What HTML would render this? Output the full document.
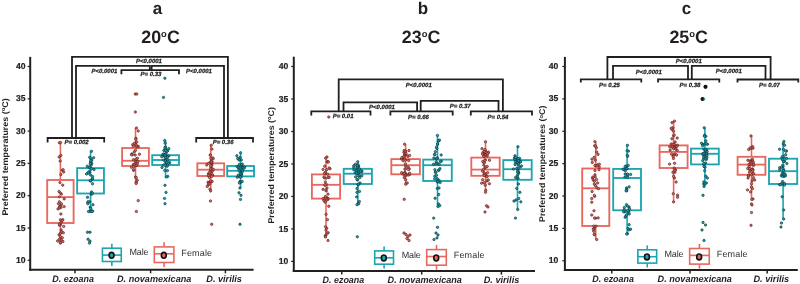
<!DOCTYPE html>
<html><head><meta charset="utf-8"><style>
html,body{margin:0;padding:0;background:#fff;width:800px;height:284px;overflow:hidden}
svg text{font-family:"Liberation Sans",sans-serif;text-rendering:geometricPrecision}
svg{will-change:transform}
</style></head><body>
<svg width="800" height="284" viewBox="0 0 800 284" style="display:block">
<rect width="800" height="284" fill="#ffffff"/>
<text x="157.50" y="13.50" font-size="17.0" font-weight="bold" font-style="normal" text-anchor="middle" fill="#231F20" >a</text>
<text x="141.20" y="43.0" font-size="17.8" font-weight="bold" text-anchor="start" fill="#231F20" textLength="38.6" lengthAdjust="spacingAndGlyphs">20<tspan font-size="9.4" dy="-5.9">o</tspan><tspan dy="5.9">C</tspan></text>
<line x1="30.20" y1="56.90" x2="30.20" y2="270.70" stroke="#231F20" stroke-width="2.0" stroke-linecap="butt"/>
<line x1="29.20" y1="269.70" x2="253.60" y2="269.70" stroke="#231F20" stroke-width="2.0" stroke-linecap="butt"/>
<line x1="27.60" y1="260.30" x2="30.20" y2="260.30" stroke="#231F20" stroke-width="1.2" stroke-linecap="butt"/>
<text x="25.50" y="262.90" font-size="8.6" font-weight="bold" font-style="normal" text-anchor="end" fill="#231F20" stroke="#231F20" stroke-width="0.2">10</text>
<line x1="27.60" y1="228.00" x2="30.20" y2="228.00" stroke="#231F20" stroke-width="1.2" stroke-linecap="butt"/>
<text x="25.50" y="230.60" font-size="8.6" font-weight="bold" font-style="normal" text-anchor="end" fill="#231F20" stroke="#231F20" stroke-width="0.2">15</text>
<line x1="27.60" y1="195.70" x2="30.20" y2="195.70" stroke="#231F20" stroke-width="1.2" stroke-linecap="butt"/>
<text x="25.50" y="198.30" font-size="8.6" font-weight="bold" font-style="normal" text-anchor="end" fill="#231F20" stroke="#231F20" stroke-width="0.2">20</text>
<line x1="27.60" y1="163.40" x2="30.20" y2="163.40" stroke="#231F20" stroke-width="1.2" stroke-linecap="butt"/>
<text x="25.50" y="166.00" font-size="8.6" font-weight="bold" font-style="normal" text-anchor="end" fill="#231F20" stroke="#231F20" stroke-width="0.2">25</text>
<line x1="27.60" y1="131.10" x2="30.20" y2="131.10" stroke="#231F20" stroke-width="1.2" stroke-linecap="butt"/>
<text x="25.50" y="133.70" font-size="8.6" font-weight="bold" font-style="normal" text-anchor="end" fill="#231F20" stroke="#231F20" stroke-width="0.2">30</text>
<line x1="27.60" y1="98.80" x2="30.20" y2="98.80" stroke="#231F20" stroke-width="1.2" stroke-linecap="butt"/>
<text x="25.50" y="101.40" font-size="8.6" font-weight="bold" font-style="normal" text-anchor="end" fill="#231F20" stroke="#231F20" stroke-width="0.2">35</text>
<line x1="27.60" y1="66.50" x2="30.20" y2="66.50" stroke="#231F20" stroke-width="1.2" stroke-linecap="butt"/>
<text x="25.50" y="69.10" font-size="8.6" font-weight="bold" font-style="normal" text-anchor="end" fill="#231F20" stroke="#231F20" stroke-width="0.2">40</text>
<line x1="75.00" y1="269.70" x2="75.00" y2="273.30" stroke="#231F20" stroke-width="1.5" stroke-linecap="butt"/>
<line x1="150.60" y1="269.70" x2="150.60" y2="273.30" stroke="#231F20" stroke-width="1.5" stroke-linecap="butt"/>
<line x1="225.40" y1="269.70" x2="225.40" y2="273.30" stroke="#231F20" stroke-width="1.5" stroke-linecap="butt"/>
<text x="73.10" y="281.70" font-size="9.3" font-weight="bold" font-style="italic" text-anchor="middle" fill="#231F20" textLength="41.6" lengthAdjust="spacingAndGlyphs">D. ezoana</text>
<text x="154.20" y="281.70" font-size="9.3" font-weight="bold" font-style="italic" text-anchor="middle" fill="#231F20" textLength="74.3" lengthAdjust="spacingAndGlyphs">D. novamexicana</text>
<text x="224.10" y="281.70" font-size="9.3" font-weight="bold" font-style="italic" text-anchor="middle" fill="#231F20" textLength="35.6" lengthAdjust="spacingAndGlyphs">D. virilis</text>
<text transform="translate(7.60,156.90) rotate(-90)" x="0" y="0" font-size="8.3" font-weight="bold" text-anchor="middle" fill="#231F20" textLength="117.4" lengthAdjust="spacingAndGlyphs">Preferred temperatures (<tspan font-size="5.5" dy="-2.8">o</tspan><tspan dy="2.8">C)</tspan></text>
<text x="423.00" y="13.50" font-size="17.0" font-weight="bold" font-style="normal" text-anchor="middle" fill="#231F20" >b</text>
<text x="401.80" y="43.0" font-size="17.8" font-weight="bold" text-anchor="start" fill="#231F20" textLength="38.6" lengthAdjust="spacingAndGlyphs">23<tspan font-size="9.4" dy="-5.9">o</tspan><tspan dy="5.9">C</tspan></text>
<line x1="293.80" y1="56.70" x2="293.80" y2="272.00" stroke="#231F20" stroke-width="2.0" stroke-linecap="butt"/>
<line x1="292.80" y1="271.00" x2="535.00" y2="271.00" stroke="#231F20" stroke-width="2.0" stroke-linecap="butt"/>
<line x1="291.20" y1="261.40" x2="293.80" y2="261.40" stroke="#231F20" stroke-width="1.2" stroke-linecap="butt"/>
<text x="288.30" y="264.00" font-size="8.6" font-weight="bold" font-style="normal" text-anchor="end" fill="#231F20" stroke="#231F20" stroke-width="0.2">10</text>
<line x1="291.20" y1="228.92" x2="293.80" y2="228.92" stroke="#231F20" stroke-width="1.2" stroke-linecap="butt"/>
<text x="288.30" y="231.52" font-size="8.6" font-weight="bold" font-style="normal" text-anchor="end" fill="#231F20" stroke="#231F20" stroke-width="0.2">15</text>
<line x1="291.20" y1="196.43" x2="293.80" y2="196.43" stroke="#231F20" stroke-width="1.2" stroke-linecap="butt"/>
<text x="288.30" y="199.03" font-size="8.6" font-weight="bold" font-style="normal" text-anchor="end" fill="#231F20" stroke="#231F20" stroke-width="0.2">20</text>
<line x1="291.20" y1="163.95" x2="293.80" y2="163.95" stroke="#231F20" stroke-width="1.2" stroke-linecap="butt"/>
<text x="288.30" y="166.55" font-size="8.6" font-weight="bold" font-style="normal" text-anchor="end" fill="#231F20" stroke="#231F20" stroke-width="0.2">25</text>
<line x1="291.20" y1="131.47" x2="293.80" y2="131.47" stroke="#231F20" stroke-width="1.2" stroke-linecap="butt"/>
<text x="288.30" y="134.07" font-size="8.6" font-weight="bold" font-style="normal" text-anchor="end" fill="#231F20" stroke="#231F20" stroke-width="0.2">30</text>
<line x1="291.20" y1="98.98" x2="293.80" y2="98.98" stroke="#231F20" stroke-width="1.2" stroke-linecap="butt"/>
<text x="288.30" y="101.58" font-size="8.6" font-weight="bold" font-style="normal" text-anchor="end" fill="#231F20" stroke="#231F20" stroke-width="0.2">35</text>
<line x1="291.20" y1="66.50" x2="293.80" y2="66.50" stroke="#231F20" stroke-width="1.2" stroke-linecap="butt"/>
<text x="288.30" y="69.10" font-size="8.6" font-weight="bold" font-style="normal" text-anchor="end" fill="#231F20" stroke="#231F20" stroke-width="0.2">40</text>
<line x1="341.80" y1="271.00" x2="341.80" y2="274.60" stroke="#231F20" stroke-width="1.5" stroke-linecap="butt"/>
<line x1="421.70" y1="271.00" x2="421.70" y2="274.60" stroke="#231F20" stroke-width="1.5" stroke-linecap="butt"/>
<line x1="501.40" y1="271.00" x2="501.40" y2="274.60" stroke="#231F20" stroke-width="1.5" stroke-linecap="butt"/>
<text x="343.40" y="283.00" font-size="9.3" font-weight="bold" font-style="italic" text-anchor="middle" fill="#231F20" textLength="41.6" lengthAdjust="spacingAndGlyphs">D. ezoana</text>
<text x="424.75" y="283.00" font-size="9.3" font-weight="bold" font-style="italic" text-anchor="middle" fill="#231F20" textLength="74.3" lengthAdjust="spacingAndGlyphs">D. novamexicana</text>
<text x="501.50" y="283.00" font-size="9.3" font-weight="bold" font-style="italic" text-anchor="middle" fill="#231F20" textLength="35.6" lengthAdjust="spacingAndGlyphs">D. virilis</text>
<text transform="translate(273.80,165.30) rotate(-90)" x="0" y="0" font-size="8.3" font-weight="bold" text-anchor="middle" fill="#231F20" textLength="116.6" lengthAdjust="spacingAndGlyphs">Preferred temperatures (<tspan font-size="5.5" dy="-2.8">o</tspan><tspan dy="2.8">C)</tspan></text>
<text x="686.50" y="13.50" font-size="17.0" font-weight="bold" font-style="normal" text-anchor="middle" fill="#231F20" >c</text>
<text x="669.40" y="43.0" font-size="17.8" font-weight="bold" text-anchor="start" fill="#231F20" textLength="38.6" lengthAdjust="spacingAndGlyphs">25<tspan font-size="9.4" dy="-5.9">o</tspan><tspan dy="5.9">C</tspan></text>
<line x1="564.90" y1="56.90" x2="564.90" y2="271.00" stroke="#231F20" stroke-width="2.0" stroke-linecap="butt"/>
<line x1="563.90" y1="270.00" x2="797.80" y2="270.00" stroke="#231F20" stroke-width="2.0" stroke-linecap="butt"/>
<line x1="562.30" y1="260.80" x2="564.90" y2="260.80" stroke="#231F20" stroke-width="1.2" stroke-linecap="butt"/>
<text x="558.20" y="263.40" font-size="8.6" font-weight="bold" font-style="normal" text-anchor="end" fill="#231F20" stroke="#231F20" stroke-width="0.2">10</text>
<line x1="562.30" y1="228.42" x2="564.90" y2="228.42" stroke="#231F20" stroke-width="1.2" stroke-linecap="butt"/>
<text x="558.20" y="231.02" font-size="8.6" font-weight="bold" font-style="normal" text-anchor="end" fill="#231F20" stroke="#231F20" stroke-width="0.2">15</text>
<line x1="562.30" y1="196.03" x2="564.90" y2="196.03" stroke="#231F20" stroke-width="1.2" stroke-linecap="butt"/>
<text x="558.20" y="198.63" font-size="8.6" font-weight="bold" font-style="normal" text-anchor="end" fill="#231F20" stroke="#231F20" stroke-width="0.2">20</text>
<line x1="562.30" y1="163.65" x2="564.90" y2="163.65" stroke="#231F20" stroke-width="1.2" stroke-linecap="butt"/>
<text x="558.20" y="166.25" font-size="8.6" font-weight="bold" font-style="normal" text-anchor="end" fill="#231F20" stroke="#231F20" stroke-width="0.2">25</text>
<line x1="562.30" y1="131.27" x2="564.90" y2="131.27" stroke="#231F20" stroke-width="1.2" stroke-linecap="butt"/>
<text x="558.20" y="133.87" font-size="8.6" font-weight="bold" font-style="normal" text-anchor="end" fill="#231F20" stroke="#231F20" stroke-width="0.2">30</text>
<line x1="562.30" y1="98.88" x2="564.90" y2="98.88" stroke="#231F20" stroke-width="1.2" stroke-linecap="butt"/>
<text x="558.20" y="101.48" font-size="8.6" font-weight="bold" font-style="normal" text-anchor="end" fill="#231F20" stroke="#231F20" stroke-width="0.2">35</text>
<line x1="562.30" y1="66.50" x2="564.90" y2="66.50" stroke="#231F20" stroke-width="1.2" stroke-linecap="butt"/>
<text x="558.20" y="69.10" font-size="8.6" font-weight="bold" font-style="normal" text-anchor="end" fill="#231F20" stroke="#231F20" stroke-width="0.2">40</text>
<line x1="611.80" y1="270.00" x2="611.80" y2="273.60" stroke="#231F20" stroke-width="1.5" stroke-linecap="butt"/>
<line x1="690.00" y1="270.00" x2="690.00" y2="273.60" stroke="#231F20" stroke-width="1.5" stroke-linecap="butt"/>
<line x1="767.20" y1="270.00" x2="767.20" y2="273.60" stroke="#231F20" stroke-width="1.5" stroke-linecap="butt"/>
<text x="613.10" y="282.00" font-size="9.3" font-weight="bold" font-style="italic" text-anchor="middle" fill="#231F20" textLength="41.6" lengthAdjust="spacingAndGlyphs">D. ezoana</text>
<text x="694.75" y="282.00" font-size="9.3" font-weight="bold" font-style="italic" text-anchor="middle" fill="#231F20" textLength="74.3" lengthAdjust="spacingAndGlyphs">D. novamexicana</text>
<text x="771.30" y="282.00" font-size="9.3" font-weight="bold" font-style="italic" text-anchor="middle" fill="#231F20" textLength="35.6" lengthAdjust="spacingAndGlyphs">D. virilis</text>
<text transform="translate(545.40,163.80) rotate(-90)" x="0" y="0" font-size="8.3" font-weight="bold" text-anchor="middle" fill="#231F20" textLength="116.4" lengthAdjust="spacingAndGlyphs">Preferred temperatures (<tspan font-size="5.5" dy="-2.8">o</tspan><tspan dy="2.8">C)</tspan></text>
<line x1="60.40" y1="142.80" x2="60.40" y2="180.00" stroke="#E8685F" stroke-width="1.6" stroke-linecap="butt"/>
<line x1="60.40" y1="223.00" x2="60.40" y2="243.00" stroke="#E8685F" stroke-width="1.6" stroke-linecap="butt"/>
<rect x="47.20" y="180.00" width="26.40" height="43.00" fill="none" stroke="#E8685F" stroke-width="1.85"/>
<line x1="47.20" y1="197.10" x2="73.60" y2="197.10" stroke="#E8685F" stroke-width="1.85" stroke-linecap="butt"/>
<line x1="90.55" y1="151.30" x2="90.55" y2="168.10" stroke="#1BA5B2" stroke-width="1.6" stroke-linecap="butt"/>
<line x1="90.55" y1="193.50" x2="90.55" y2="211.50" stroke="#1BA5B2" stroke-width="1.6" stroke-linecap="butt"/>
<rect x="77.15" y="168.10" width="26.80" height="25.40" fill="none" stroke="#1BA5B2" stroke-width="1.85"/>
<line x1="77.15" y1="180.30" x2="103.95" y2="180.30" stroke="#1BA5B2" stroke-width="1.85" stroke-linecap="butt"/>
<line x1="135.50" y1="128.00" x2="135.50" y2="148.00" stroke="#E8685F" stroke-width="1.6" stroke-linecap="butt"/>
<line x1="135.50" y1="166.00" x2="135.50" y2="183.50" stroke="#E8685F" stroke-width="1.6" stroke-linecap="butt"/>
<rect x="122.10" y="148.00" width="26.80" height="18.00" fill="none" stroke="#E8685F" stroke-width="1.85"/>
<line x1="122.10" y1="160.80" x2="148.90" y2="160.80" stroke="#E8685F" stroke-width="1.85" stroke-linecap="butt"/>
<line x1="165.60" y1="140.50" x2="165.60" y2="155.20" stroke="#1BA5B2" stroke-width="1.6" stroke-linecap="butt"/>
<line x1="165.60" y1="165.00" x2="165.60" y2="177.00" stroke="#1BA5B2" stroke-width="1.6" stroke-linecap="butt"/>
<rect x="152.20" y="155.20" width="26.80" height="9.80" fill="none" stroke="#1BA5B2" stroke-width="1.85"/>
<line x1="152.20" y1="160.00" x2="179.00" y2="160.00" stroke="#1BA5B2" stroke-width="1.85" stroke-linecap="butt"/>
<line x1="210.75" y1="145.30" x2="210.75" y2="163.30" stroke="#E8685F" stroke-width="1.6" stroke-linecap="butt"/>
<line x1="210.75" y1="176.00" x2="210.75" y2="191.00" stroke="#E8685F" stroke-width="1.6" stroke-linecap="butt"/>
<rect x="197.35" y="163.30" width="26.80" height="12.70" fill="none" stroke="#E8685F" stroke-width="1.85"/>
<line x1="197.35" y1="169.70" x2="224.15" y2="169.70" stroke="#E8685F" stroke-width="1.85" stroke-linecap="butt"/>
<line x1="240.60" y1="152.80" x2="240.60" y2="166.00" stroke="#1BA5B2" stroke-width="1.6" stroke-linecap="butt"/>
<line x1="240.60" y1="176.40" x2="240.60" y2="188.00" stroke="#1BA5B2" stroke-width="1.6" stroke-linecap="butt"/>
<rect x="227.20" y="166.00" width="26.80" height="10.40" fill="none" stroke="#1BA5B2" stroke-width="1.85"/>
<line x1="227.20" y1="170.80" x2="254.00" y2="170.80" stroke="#1BA5B2" stroke-width="1.85" stroke-linecap="butt"/>
<line x1="326.00" y1="156.90" x2="326.00" y2="174.40" stroke="#E8685F" stroke-width="1.6" stroke-linecap="butt"/>
<line x1="326.00" y1="198.60" x2="326.00" y2="236.00" stroke="#E8685F" stroke-width="1.6" stroke-linecap="butt"/>
<rect x="311.90" y="174.40" width="28.20" height="24.20" fill="none" stroke="#E8685F" stroke-width="1.85"/>
<line x1="311.90" y1="184.80" x2="340.10" y2="184.80" stroke="#E8685F" stroke-width="1.85" stroke-linecap="butt"/>
<line x1="357.80" y1="161.80" x2="357.80" y2="168.80" stroke="#1BA5B2" stroke-width="1.6" stroke-linecap="butt"/>
<line x1="357.80" y1="184.00" x2="357.80" y2="204.70" stroke="#1BA5B2" stroke-width="1.6" stroke-linecap="butt"/>
<rect x="343.70" y="168.80" width="28.20" height="15.20" fill="none" stroke="#1BA5B2" stroke-width="1.85"/>
<line x1="343.70" y1="173.70" x2="371.90" y2="173.70" stroke="#1BA5B2" stroke-width="1.85" stroke-linecap="butt"/>
<line x1="405.60" y1="144.20" x2="405.60" y2="159.10" stroke="#E8685F" stroke-width="1.6" stroke-linecap="butt"/>
<line x1="405.60" y1="174.30" x2="405.60" y2="184.20" stroke="#E8685F" stroke-width="1.6" stroke-linecap="butt"/>
<rect x="391.30" y="159.10" width="28.60" height="15.20" fill="none" stroke="#E8685F" stroke-width="1.85"/>
<line x1="391.30" y1="165.20" x2="419.90" y2="165.20" stroke="#E8685F" stroke-width="1.85" stroke-linecap="butt"/>
<line x1="437.50" y1="135.40" x2="437.50" y2="159.60" stroke="#1BA5B2" stroke-width="1.6" stroke-linecap="butt"/>
<line x1="437.50" y1="181.00" x2="437.50" y2="206.60" stroke="#1BA5B2" stroke-width="1.6" stroke-linecap="butt"/>
<rect x="423.20" y="159.60" width="28.60" height="21.40" fill="none" stroke="#1BA5B2" stroke-width="1.85"/>
<line x1="423.20" y1="165.20" x2="451.80" y2="165.20" stroke="#1BA5B2" stroke-width="1.85" stroke-linecap="butt"/>
<line x1="485.50" y1="141.80" x2="485.50" y2="157.60" stroke="#E8685F" stroke-width="1.6" stroke-linecap="butt"/>
<line x1="485.50" y1="175.80" x2="485.50" y2="190.30" stroke="#E8685F" stroke-width="1.6" stroke-linecap="butt"/>
<rect x="471.30" y="157.60" width="28.40" height="18.20" fill="none" stroke="#E8685F" stroke-width="1.85"/>
<line x1="471.30" y1="169.60" x2="499.70" y2="169.60" stroke="#E8685F" stroke-width="1.85" stroke-linecap="butt"/>
<line x1="517.50" y1="146.70" x2="517.50" y2="160.10" stroke="#1BA5B2" stroke-width="1.6" stroke-linecap="butt"/>
<line x1="517.50" y1="179.80" x2="517.50" y2="209.50" stroke="#1BA5B2" stroke-width="1.6" stroke-linecap="butt"/>
<rect x="503.30" y="160.10" width="28.40" height="19.70" fill="none" stroke="#1BA5B2" stroke-width="1.85"/>
<line x1="503.30" y1="169.20" x2="531.70" y2="169.20" stroke="#1BA5B2" stroke-width="1.85" stroke-linecap="butt"/>
<line x1="595.75" y1="141.60" x2="595.75" y2="168.50" stroke="#E8685F" stroke-width="1.6" stroke-linecap="butt"/>
<line x1="595.75" y1="226.00" x2="595.75" y2="239.50" stroke="#E8685F" stroke-width="1.6" stroke-linecap="butt"/>
<rect x="582.20" y="168.50" width="27.10" height="57.50" fill="none" stroke="#E8685F" stroke-width="1.85"/>
<line x1="582.20" y1="188.30" x2="609.30" y2="188.30" stroke="#E8685F" stroke-width="1.85" stroke-linecap="butt"/>
<line x1="627.10" y1="145.30" x2="627.10" y2="168.90" stroke="#1BA5B2" stroke-width="1.6" stroke-linecap="butt"/>
<line x1="627.10" y1="210.30" x2="627.10" y2="234.00" stroke="#1BA5B2" stroke-width="1.6" stroke-linecap="butt"/>
<rect x="613.20" y="168.90" width="27.80" height="41.40" fill="none" stroke="#1BA5B2" stroke-width="1.85"/>
<line x1="613.20" y1="178.00" x2="641.00" y2="178.00" stroke="#1BA5B2" stroke-width="1.85" stroke-linecap="butt"/>
<line x1="673.60" y1="121.10" x2="673.60" y2="145.40" stroke="#E8685F" stroke-width="1.6" stroke-linecap="butt"/>
<line x1="673.60" y1="168.00" x2="673.60" y2="201.90" stroke="#E8685F" stroke-width="1.6" stroke-linecap="butt"/>
<rect x="659.60" y="145.40" width="28.00" height="22.60" fill="none" stroke="#E8685F" stroke-width="1.85"/>
<line x1="659.60" y1="151.90" x2="687.60" y2="151.90" stroke="#E8685F" stroke-width="1.85" stroke-linecap="butt"/>
<line x1="704.90" y1="127.80" x2="704.90" y2="148.60" stroke="#1BA5B2" stroke-width="1.6" stroke-linecap="butt"/>
<line x1="704.90" y1="164.40" x2="704.90" y2="186.50" stroke="#1BA5B2" stroke-width="1.6" stroke-linecap="butt"/>
<rect x="691.00" y="148.60" width="27.80" height="15.80" fill="none" stroke="#1BA5B2" stroke-width="1.85"/>
<line x1="691.00" y1="153.80" x2="718.80" y2="153.80" stroke="#1BA5B2" stroke-width="1.85" stroke-linecap="butt"/>
<line x1="751.50" y1="135.90" x2="751.50" y2="156.80" stroke="#E8685F" stroke-width="1.6" stroke-linecap="butt"/>
<line x1="751.50" y1="174.80" x2="751.50" y2="199.40" stroke="#E8685F" stroke-width="1.6" stroke-linecap="butt"/>
<rect x="737.60" y="156.80" width="27.80" height="18.00" fill="none" stroke="#E8685F" stroke-width="1.85"/>
<line x1="737.60" y1="164.60" x2="765.40" y2="164.60" stroke="#E8685F" stroke-width="1.85" stroke-linecap="butt"/>
<line x1="783.10" y1="141.50" x2="783.10" y2="158.70" stroke="#1BA5B2" stroke-width="1.6" stroke-linecap="butt"/>
<line x1="783.10" y1="184.00" x2="783.10" y2="219.00" stroke="#1BA5B2" stroke-width="1.6" stroke-linecap="butt"/>
<rect x="769.00" y="158.70" width="28.20" height="25.30" fill="none" stroke="#1BA5B2" stroke-width="1.85"/>
<line x1="769.00" y1="171.20" x2="797.20" y2="171.20" stroke="#1BA5B2" stroke-width="1.85" stroke-linecap="butt"/>
<circle cx="59.97" cy="182.58" r="1.2" fill="#E8685F" stroke="#4a1a18" stroke-width="0.6"/>
<circle cx="59.80" cy="206.57" r="1.2" fill="#E8685F" stroke="#4a1a18" stroke-width="0.6"/>
<circle cx="62.37" cy="170.21" r="1.2" fill="#E8685F" stroke="#4a1a18" stroke-width="0.6"/>
<circle cx="60.87" cy="155.43" r="1.2" fill="#E8685F" stroke="#4a1a18" stroke-width="0.6"/>
<circle cx="61.36" cy="194.14" r="1.2" fill="#E8685F" stroke="#4a1a18" stroke-width="0.6"/>
<circle cx="61.35" cy="221.65" r="1.2" fill="#E8685F" stroke="#4a1a18" stroke-width="0.6"/>
<circle cx="60.98" cy="207.37" r="1.2" fill="#E8685F" stroke="#4a1a18" stroke-width="0.6"/>
<circle cx="60.31" cy="224.90" r="1.2" fill="#E8685F" stroke="#4a1a18" stroke-width="0.6"/>
<circle cx="59.14" cy="157.01" r="1.2" fill="#E8685F" stroke="#4a1a18" stroke-width="0.6"/>
<circle cx="63.66" cy="171.95" r="1.2" fill="#E8685F" stroke="#4a1a18" stroke-width="0.6"/>
<circle cx="59.75" cy="206.75" r="1.2" fill="#E8685F" stroke="#4a1a18" stroke-width="0.6"/>
<circle cx="60.20" cy="161.07" r="1.2" fill="#E8685F" stroke="#4a1a18" stroke-width="0.6"/>
<circle cx="59.41" cy="208.17" r="1.2" fill="#E8685F" stroke="#4a1a18" stroke-width="0.6"/>
<circle cx="62.72" cy="185.13" r="1.2" fill="#E8685F" stroke="#4a1a18" stroke-width="0.6"/>
<circle cx="60.49" cy="233.13" r="1.2" fill="#E8685F" stroke="#4a1a18" stroke-width="0.6"/>
<circle cx="62.88" cy="219.77" r="1.2" fill="#E8685F" stroke="#4a1a18" stroke-width="0.6"/>
<circle cx="61.35" cy="204.56" r="1.2" fill="#E8685F" stroke="#4a1a18" stroke-width="0.6"/>
<circle cx="60.28" cy="192.95" r="1.2" fill="#E8685F" stroke="#4a1a18" stroke-width="0.6"/>
<circle cx="63.14" cy="169.76" r="1.2" fill="#E8685F" stroke="#4a1a18" stroke-width="0.6"/>
<circle cx="61.09" cy="229.94" r="1.2" fill="#E8685F" stroke="#4a1a18" stroke-width="0.6"/>
<circle cx="59.54" cy="225.21" r="1.2" fill="#E8685F" stroke="#4a1a18" stroke-width="0.6"/>
<circle cx="58.00" cy="208.92" r="1.2" fill="#E8685F" stroke="#4a1a18" stroke-width="0.6"/>
<circle cx="57.63" cy="240.95" r="1.2" fill="#E8685F" stroke="#4a1a18" stroke-width="0.6"/>
<circle cx="60.85" cy="174.51" r="1.2" fill="#E8685F" stroke="#4a1a18" stroke-width="0.6"/>
<circle cx="61.08" cy="222.82" r="1.2" fill="#E8685F" stroke="#4a1a18" stroke-width="0.6"/>
<circle cx="59.00" cy="191.43" r="1.2" fill="#E8685F" stroke="#4a1a18" stroke-width="0.6"/>
<circle cx="59.45" cy="142.80" r="1.2" fill="#E8685F" stroke="#4a1a18" stroke-width="0.6"/>
<circle cx="60.32" cy="243.00" r="1.2" fill="#E8685F" stroke="#4a1a18" stroke-width="0.6"/>
<circle cx="60.50" cy="142.50" r="1.2" fill="#E8685F" stroke="#4a1a18" stroke-width="0.6"/>
<circle cx="59.40" cy="196.90" r="1.2" fill="#E8685F" stroke="#4a1a18" stroke-width="0.6"/>
<circle cx="64.20" cy="198.90" r="1.2" fill="#E8685F" stroke="#4a1a18" stroke-width="0.6"/>
<circle cx="59.40" cy="201.80" r="1.2" fill="#E8685F" stroke="#4a1a18" stroke-width="0.6"/>
<circle cx="58.40" cy="203.70" r="1.2" fill="#E8685F" stroke="#4a1a18" stroke-width="0.6"/>
<circle cx="61.30" cy="203.70" r="1.2" fill="#E8685F" stroke="#4a1a18" stroke-width="0.6"/>
<circle cx="64.20" cy="206.60" r="1.2" fill="#E8685F" stroke="#4a1a18" stroke-width="0.6"/>
<circle cx="60.90" cy="214.00" r="1.2" fill="#E8685F" stroke="#4a1a18" stroke-width="0.6"/>
<circle cx="60.40" cy="219.80" r="1.2" fill="#E8685F" stroke="#4a1a18" stroke-width="0.6"/>
<circle cx="62.30" cy="220.20" r="1.2" fill="#E8685F" stroke="#4a1a18" stroke-width="0.6"/>
<circle cx="59.40" cy="224.10" r="1.2" fill="#E8685F" stroke="#4a1a18" stroke-width="0.6"/>
<circle cx="63.70" cy="226.40" r="1.2" fill="#E8685F" stroke="#4a1a18" stroke-width="0.6"/>
<circle cx="61.70" cy="231.80" r="1.2" fill="#E8685F" stroke="#4a1a18" stroke-width="0.6"/>
<circle cx="63.30" cy="232.80" r="1.2" fill="#E8685F" stroke="#4a1a18" stroke-width="0.6"/>
<circle cx="59.00" cy="234.80" r="1.2" fill="#E8685F" stroke="#4a1a18" stroke-width="0.6"/>
<circle cx="60.40" cy="236.70" r="1.2" fill="#E8685F" stroke="#4a1a18" stroke-width="0.6"/>
<circle cx="62.30" cy="237.70" r="1.2" fill="#E8685F" stroke="#4a1a18" stroke-width="0.6"/>
<circle cx="59.40" cy="239.20" r="1.2" fill="#E8685F" stroke="#4a1a18" stroke-width="0.6"/>
<circle cx="61.30" cy="240.00" r="1.2" fill="#E8685F" stroke="#4a1a18" stroke-width="0.6"/>
<circle cx="62.90" cy="241.50" r="1.2" fill="#E8685F" stroke="#4a1a18" stroke-width="0.6"/>
<circle cx="60.40" cy="242.50" r="1.2" fill="#E8685F" stroke="#4a1a18" stroke-width="0.6"/>
<circle cx="93.58" cy="157.70" r="1.2" fill="#1BA5B2" stroke="#0a2e33" stroke-width="0.6"/>
<circle cx="91.73" cy="160.26" r="1.2" fill="#1BA5B2" stroke="#0a2e33" stroke-width="0.6"/>
<circle cx="92.36" cy="178.73" r="1.2" fill="#1BA5B2" stroke="#0a2e33" stroke-width="0.6"/>
<circle cx="91.56" cy="191.96" r="1.2" fill="#1BA5B2" stroke="#0a2e33" stroke-width="0.6"/>
<circle cx="90.20" cy="207.13" r="1.2" fill="#1BA5B2" stroke="#0a2e33" stroke-width="0.6"/>
<circle cx="92.49" cy="178.89" r="1.2" fill="#1BA5B2" stroke="#0a2e33" stroke-width="0.6"/>
<circle cx="91.17" cy="194.00" r="1.2" fill="#1BA5B2" stroke="#0a2e33" stroke-width="0.6"/>
<circle cx="91.78" cy="163.43" r="1.2" fill="#1BA5B2" stroke="#0a2e33" stroke-width="0.6"/>
<circle cx="92.53" cy="183.77" r="1.2" fill="#1BA5B2" stroke="#0a2e33" stroke-width="0.6"/>
<circle cx="90.60" cy="175.01" r="1.2" fill="#1BA5B2" stroke="#0a2e33" stroke-width="0.6"/>
<circle cx="87.93" cy="202.41" r="1.2" fill="#1BA5B2" stroke="#0a2e33" stroke-width="0.6"/>
<circle cx="90.29" cy="181.01" r="1.2" fill="#1BA5B2" stroke="#0a2e33" stroke-width="0.6"/>
<circle cx="92.95" cy="204.73" r="1.2" fill="#1BA5B2" stroke="#0a2e33" stroke-width="0.6"/>
<circle cx="88.14" cy="172.97" r="1.2" fill="#1BA5B2" stroke="#0a2e33" stroke-width="0.6"/>
<circle cx="91.21" cy="164.99" r="1.2" fill="#1BA5B2" stroke="#0a2e33" stroke-width="0.6"/>
<circle cx="90.82" cy="158.71" r="1.2" fill="#1BA5B2" stroke="#0a2e33" stroke-width="0.6"/>
<circle cx="91.64" cy="168.74" r="1.2" fill="#1BA5B2" stroke="#0a2e33" stroke-width="0.6"/>
<circle cx="90.55" cy="161.96" r="1.2" fill="#1BA5B2" stroke="#0a2e33" stroke-width="0.6"/>
<circle cx="89.74" cy="167.11" r="1.2" fill="#1BA5B2" stroke="#0a2e33" stroke-width="0.6"/>
<circle cx="89.84" cy="172.34" r="1.2" fill="#1BA5B2" stroke="#0a2e33" stroke-width="0.6"/>
<circle cx="94.04" cy="169.60" r="1.2" fill="#1BA5B2" stroke="#0a2e33" stroke-width="0.6"/>
<circle cx="86.55" cy="174.00" r="1.2" fill="#1BA5B2" stroke="#0a2e33" stroke-width="0.6"/>
<circle cx="89.73" cy="157.32" r="1.2" fill="#1BA5B2" stroke="#0a2e33" stroke-width="0.6"/>
<circle cx="91.79" cy="194.06" r="1.2" fill="#1BA5B2" stroke="#0a2e33" stroke-width="0.6"/>
<circle cx="89.50" cy="167.72" r="1.2" fill="#1BA5B2" stroke="#0a2e33" stroke-width="0.6"/>
<circle cx="90.36" cy="180.66" r="1.2" fill="#1BA5B2" stroke="#0a2e33" stroke-width="0.6"/>
<circle cx="92.47" cy="193.22" r="1.2" fill="#1BA5B2" stroke="#0a2e33" stroke-width="0.6"/>
<circle cx="88.33" cy="172.57" r="1.2" fill="#1BA5B2" stroke="#0a2e33" stroke-width="0.6"/>
<circle cx="87.32" cy="166.25" r="1.2" fill="#1BA5B2" stroke="#0a2e33" stroke-width="0.6"/>
<circle cx="89.88" cy="170.82" r="1.2" fill="#1BA5B2" stroke="#0a2e33" stroke-width="0.6"/>
<circle cx="92.62" cy="210.99" r="1.2" fill="#1BA5B2" stroke="#0a2e33" stroke-width="0.6"/>
<circle cx="87.80" cy="203.65" r="1.2" fill="#1BA5B2" stroke="#0a2e33" stroke-width="0.6"/>
<circle cx="90.27" cy="163.79" r="1.2" fill="#1BA5B2" stroke="#0a2e33" stroke-width="0.6"/>
<circle cx="90.91" cy="160.77" r="1.2" fill="#1BA5B2" stroke="#0a2e33" stroke-width="0.6"/>
<circle cx="92.54" cy="176.55" r="1.2" fill="#1BA5B2" stroke="#0a2e33" stroke-width="0.6"/>
<circle cx="89.99" cy="211.09" r="1.2" fill="#1BA5B2" stroke="#0a2e33" stroke-width="0.6"/>
<circle cx="91.46" cy="151.30" r="1.2" fill="#1BA5B2" stroke="#0a2e33" stroke-width="0.6"/>
<circle cx="90.28" cy="211.50" r="1.2" fill="#1BA5B2" stroke="#0a2e33" stroke-width="0.6"/>
<circle cx="87.50" cy="197.30" r="1.2" fill="#1BA5B2" stroke="#0a2e33" stroke-width="0.6"/>
<circle cx="90.00" cy="201.80" r="1.2" fill="#1BA5B2" stroke="#0a2e33" stroke-width="0.6"/>
<circle cx="88.10" cy="201.80" r="1.2" fill="#1BA5B2" stroke="#0a2e33" stroke-width="0.6"/>
<circle cx="90.80" cy="208.60" r="1.2" fill="#1BA5B2" stroke="#0a2e33" stroke-width="0.6"/>
<circle cx="88.50" cy="211.50" r="1.2" fill="#1BA5B2" stroke="#0a2e33" stroke-width="0.6"/>
<circle cx="92.00" cy="211.50" r="1.2" fill="#1BA5B2" stroke="#0a2e33" stroke-width="0.6"/>
<circle cx="87.50" cy="232.20" r="1.2" fill="#1BA5B2" stroke="#0a2e33" stroke-width="0.6"/>
<circle cx="90.00" cy="232.20" r="1.2" fill="#1BA5B2" stroke="#0a2e33" stroke-width="0.6"/>
<circle cx="88.10" cy="239.20" r="1.2" fill="#1BA5B2" stroke="#0a2e33" stroke-width="0.6"/>
<circle cx="90.00" cy="241.20" r="1.2" fill="#1BA5B2" stroke="#0a2e33" stroke-width="0.6"/>
<circle cx="89.40" cy="243.10" r="1.2" fill="#1BA5B2" stroke="#0a2e33" stroke-width="0.6"/>
<circle cx="135.92" cy="138.26" r="1.2" fill="#E8685F" stroke="#4a1a18" stroke-width="0.6"/>
<circle cx="136.71" cy="165.48" r="1.2" fill="#E8685F" stroke="#4a1a18" stroke-width="0.6"/>
<circle cx="133.55" cy="170.33" r="1.2" fill="#E8685F" stroke="#4a1a18" stroke-width="0.6"/>
<circle cx="132.71" cy="144.60" r="1.2" fill="#E8685F" stroke="#4a1a18" stroke-width="0.6"/>
<circle cx="135.50" cy="176.98" r="1.2" fill="#E8685F" stroke="#4a1a18" stroke-width="0.6"/>
<circle cx="133.33" cy="145.98" r="1.2" fill="#E8685F" stroke="#4a1a18" stroke-width="0.6"/>
<circle cx="137.38" cy="158.25" r="1.2" fill="#E8685F" stroke="#4a1a18" stroke-width="0.6"/>
<circle cx="135.16" cy="160.12" r="1.2" fill="#E8685F" stroke="#4a1a18" stroke-width="0.6"/>
<circle cx="136.26" cy="161.68" r="1.2" fill="#E8685F" stroke="#4a1a18" stroke-width="0.6"/>
<circle cx="136.28" cy="177.63" r="1.2" fill="#E8685F" stroke="#4a1a18" stroke-width="0.6"/>
<circle cx="138.26" cy="146.36" r="1.2" fill="#E8685F" stroke="#4a1a18" stroke-width="0.6"/>
<circle cx="135.16" cy="155.02" r="1.2" fill="#E8685F" stroke="#4a1a18" stroke-width="0.6"/>
<circle cx="138.21" cy="130.95" r="1.2" fill="#E8685F" stroke="#4a1a18" stroke-width="0.6"/>
<circle cx="135.00" cy="165.65" r="1.2" fill="#E8685F" stroke="#4a1a18" stroke-width="0.6"/>
<circle cx="136.10" cy="159.16" r="1.2" fill="#E8685F" stroke="#4a1a18" stroke-width="0.6"/>
<circle cx="134.34" cy="151.75" r="1.2" fill="#E8685F" stroke="#4a1a18" stroke-width="0.6"/>
<circle cx="135.38" cy="143.73" r="1.2" fill="#E8685F" stroke="#4a1a18" stroke-width="0.6"/>
<circle cx="137.48" cy="147.17" r="1.2" fill="#E8685F" stroke="#4a1a18" stroke-width="0.6"/>
<circle cx="131.94" cy="153.86" r="1.2" fill="#E8685F" stroke="#4a1a18" stroke-width="0.6"/>
<circle cx="133.44" cy="159.75" r="1.2" fill="#E8685F" stroke="#4a1a18" stroke-width="0.6"/>
<circle cx="135.13" cy="163.57" r="1.2" fill="#E8685F" stroke="#4a1a18" stroke-width="0.6"/>
<circle cx="135.45" cy="150.34" r="1.2" fill="#E8685F" stroke="#4a1a18" stroke-width="0.6"/>
<circle cx="136.51" cy="146.08" r="1.2" fill="#E8685F" stroke="#4a1a18" stroke-width="0.6"/>
<circle cx="137.40" cy="163.69" r="1.2" fill="#E8685F" stroke="#4a1a18" stroke-width="0.6"/>
<circle cx="132.37" cy="154.63" r="1.2" fill="#E8685F" stroke="#4a1a18" stroke-width="0.6"/>
<circle cx="134.36" cy="143.41" r="1.2" fill="#E8685F" stroke="#4a1a18" stroke-width="0.6"/>
<circle cx="135.82" cy="139.22" r="1.2" fill="#E8685F" stroke="#4a1a18" stroke-width="0.6"/>
<circle cx="133.26" cy="164.75" r="1.2" fill="#E8685F" stroke="#4a1a18" stroke-width="0.6"/>
<circle cx="133.79" cy="169.73" r="1.2" fill="#E8685F" stroke="#4a1a18" stroke-width="0.6"/>
<circle cx="134.04" cy="164.40" r="1.2" fill="#E8685F" stroke="#4a1a18" stroke-width="0.6"/>
<circle cx="131.50" cy="154.83" r="1.2" fill="#E8685F" stroke="#4a1a18" stroke-width="0.6"/>
<circle cx="136.12" cy="165.36" r="1.2" fill="#E8685F" stroke="#4a1a18" stroke-width="0.6"/>
<circle cx="131.50" cy="167.35" r="1.2" fill="#E8685F" stroke="#4a1a18" stroke-width="0.6"/>
<circle cx="133.84" cy="166.40" r="1.2" fill="#E8685F" stroke="#4a1a18" stroke-width="0.6"/>
<circle cx="136.77" cy="141.85" r="1.2" fill="#E8685F" stroke="#4a1a18" stroke-width="0.6"/>
<circle cx="136.12" cy="144.70" r="1.2" fill="#E8685F" stroke="#4a1a18" stroke-width="0.6"/>
<circle cx="137.20" cy="180.24" r="1.2" fill="#E8685F" stroke="#4a1a18" stroke-width="0.6"/>
<circle cx="137.99" cy="161.54" r="1.2" fill="#E8685F" stroke="#4a1a18" stroke-width="0.6"/>
<circle cx="136.39" cy="182.44" r="1.2" fill="#E8685F" stroke="#4a1a18" stroke-width="0.6"/>
<circle cx="139.50" cy="154.24" r="1.2" fill="#E8685F" stroke="#4a1a18" stroke-width="0.6"/>
<circle cx="136.48" cy="128.00" r="1.2" fill="#E8685F" stroke="#4a1a18" stroke-width="0.6"/>
<circle cx="136.16" cy="183.50" r="1.2" fill="#E8685F" stroke="#4a1a18" stroke-width="0.6"/>
<circle cx="135.30" cy="94.00" r="1.2" fill="#E8685F" stroke="#4a1a18" stroke-width="0.6"/>
<circle cx="136.80" cy="94.00" r="1.2" fill="#E8685F" stroke="#4a1a18" stroke-width="0.6"/>
<circle cx="135.30" cy="112.00" r="1.2" fill="#E8685F" stroke="#4a1a18" stroke-width="0.6"/>
<circle cx="138.20" cy="200.60" r="1.2" fill="#E8685F" stroke="#4a1a18" stroke-width="0.6"/>
<circle cx="136.40" cy="211.50" r="1.2" fill="#E8685F" stroke="#4a1a18" stroke-width="0.6"/>
<circle cx="163.88" cy="150.57" r="1.2" fill="#1BA5B2" stroke="#0a2e33" stroke-width="0.6"/>
<circle cx="165.43" cy="149.28" r="1.2" fill="#1BA5B2" stroke="#0a2e33" stroke-width="0.6"/>
<circle cx="163.67" cy="160.10" r="1.2" fill="#1BA5B2" stroke="#0a2e33" stroke-width="0.6"/>
<circle cx="164.92" cy="149.44" r="1.2" fill="#1BA5B2" stroke="#0a2e33" stroke-width="0.6"/>
<circle cx="169.60" cy="162.56" r="1.2" fill="#1BA5B2" stroke="#0a2e33" stroke-width="0.6"/>
<circle cx="167.77" cy="176.36" r="1.2" fill="#1BA5B2" stroke="#0a2e33" stroke-width="0.6"/>
<circle cx="168.80" cy="148.59" r="1.2" fill="#1BA5B2" stroke="#0a2e33" stroke-width="0.6"/>
<circle cx="166.41" cy="155.82" r="1.2" fill="#1BA5B2" stroke="#0a2e33" stroke-width="0.6"/>
<circle cx="166.22" cy="159.57" r="1.2" fill="#1BA5B2" stroke="#0a2e33" stroke-width="0.6"/>
<circle cx="164.27" cy="154.65" r="1.2" fill="#1BA5B2" stroke="#0a2e33" stroke-width="0.6"/>
<circle cx="166.15" cy="163.50" r="1.2" fill="#1BA5B2" stroke="#0a2e33" stroke-width="0.6"/>
<circle cx="165.95" cy="162.13" r="1.2" fill="#1BA5B2" stroke="#0a2e33" stroke-width="0.6"/>
<circle cx="163.33" cy="154.79" r="1.2" fill="#1BA5B2" stroke="#0a2e33" stroke-width="0.6"/>
<circle cx="163.04" cy="154.21" r="1.2" fill="#1BA5B2" stroke="#0a2e33" stroke-width="0.6"/>
<circle cx="163.94" cy="154.26" r="1.2" fill="#1BA5B2" stroke="#0a2e33" stroke-width="0.6"/>
<circle cx="166.10" cy="164.63" r="1.2" fill="#1BA5B2" stroke="#0a2e33" stroke-width="0.6"/>
<circle cx="164.22" cy="155.82" r="1.2" fill="#1BA5B2" stroke="#0a2e33" stroke-width="0.6"/>
<circle cx="165.36" cy="146.97" r="1.2" fill="#1BA5B2" stroke="#0a2e33" stroke-width="0.6"/>
<circle cx="164.98" cy="147.65" r="1.2" fill="#1BA5B2" stroke="#0a2e33" stroke-width="0.6"/>
<circle cx="167.10" cy="166.14" r="1.2" fill="#1BA5B2" stroke="#0a2e33" stroke-width="0.6"/>
<circle cx="165.39" cy="160.89" r="1.2" fill="#1BA5B2" stroke="#0a2e33" stroke-width="0.6"/>
<circle cx="165.90" cy="155.27" r="1.2" fill="#1BA5B2" stroke="#0a2e33" stroke-width="0.6"/>
<circle cx="166.40" cy="162.76" r="1.2" fill="#1BA5B2" stroke="#0a2e33" stroke-width="0.6"/>
<circle cx="167.60" cy="165.17" r="1.2" fill="#1BA5B2" stroke="#0a2e33" stroke-width="0.6"/>
<circle cx="162.00" cy="167.44" r="1.2" fill="#1BA5B2" stroke="#0a2e33" stroke-width="0.6"/>
<circle cx="165.71" cy="157.63" r="1.2" fill="#1BA5B2" stroke="#0a2e33" stroke-width="0.6"/>
<circle cx="163.62" cy="164.91" r="1.2" fill="#1BA5B2" stroke="#0a2e33" stroke-width="0.6"/>
<circle cx="168.60" cy="163.18" r="1.2" fill="#1BA5B2" stroke="#0a2e33" stroke-width="0.6"/>
<circle cx="166.54" cy="156.87" r="1.2" fill="#1BA5B2" stroke="#0a2e33" stroke-width="0.6"/>
<circle cx="165.94" cy="153.34" r="1.2" fill="#1BA5B2" stroke="#0a2e33" stroke-width="0.6"/>
<circle cx="168.74" cy="155.98" r="1.2" fill="#1BA5B2" stroke="#0a2e33" stroke-width="0.6"/>
<circle cx="167.45" cy="170.62" r="1.2" fill="#1BA5B2" stroke="#0a2e33" stroke-width="0.6"/>
<circle cx="165.04" cy="156.36" r="1.2" fill="#1BA5B2" stroke="#0a2e33" stroke-width="0.6"/>
<circle cx="167.63" cy="150.72" r="1.2" fill="#1BA5B2" stroke="#0a2e33" stroke-width="0.6"/>
<circle cx="167.96" cy="159.82" r="1.2" fill="#1BA5B2" stroke="#0a2e33" stroke-width="0.6"/>
<circle cx="165.19" cy="154.97" r="1.2" fill="#1BA5B2" stroke="#0a2e33" stroke-width="0.6"/>
<circle cx="167.46" cy="156.91" r="1.2" fill="#1BA5B2" stroke="#0a2e33" stroke-width="0.6"/>
<circle cx="165.61" cy="157.61" r="1.2" fill="#1BA5B2" stroke="#0a2e33" stroke-width="0.6"/>
<circle cx="167.09" cy="151.31" r="1.2" fill="#1BA5B2" stroke="#0a2e33" stroke-width="0.6"/>
<circle cx="165.65" cy="150.23" r="1.2" fill="#1BA5B2" stroke="#0a2e33" stroke-width="0.6"/>
<circle cx="165.14" cy="143.17" r="1.2" fill="#1BA5B2" stroke="#0a2e33" stroke-width="0.6"/>
<circle cx="166.90" cy="162.65" r="1.2" fill="#1BA5B2" stroke="#0a2e33" stroke-width="0.6"/>
<circle cx="164.77" cy="170.41" r="1.2" fill="#1BA5B2" stroke="#0a2e33" stroke-width="0.6"/>
<circle cx="161.78" cy="156.77" r="1.2" fill="#1BA5B2" stroke="#0a2e33" stroke-width="0.6"/>
<circle cx="165.16" cy="165.32" r="1.2" fill="#1BA5B2" stroke="#0a2e33" stroke-width="0.6"/>
<circle cx="164.69" cy="140.50" r="1.2" fill="#1BA5B2" stroke="#0a2e33" stroke-width="0.6"/>
<circle cx="166.27" cy="177.00" r="1.2" fill="#1BA5B2" stroke="#0a2e33" stroke-width="0.6"/>
<circle cx="164.90" cy="78.20" r="1.2" fill="#1BA5B2" stroke="#0a2e33" stroke-width="0.6"/>
<circle cx="163.50" cy="97.40" r="1.2" fill="#1BA5B2" stroke="#0a2e33" stroke-width="0.6"/>
<circle cx="165.00" cy="185.30" r="1.2" fill="#1BA5B2" stroke="#0a2e33" stroke-width="0.6"/>
<circle cx="166.00" cy="192.40" r="1.2" fill="#1BA5B2" stroke="#0a2e33" stroke-width="0.6"/>
<circle cx="164.50" cy="198.40" r="1.2" fill="#1BA5B2" stroke="#0a2e33" stroke-width="0.6"/>
<circle cx="165.00" cy="203.70" r="1.2" fill="#1BA5B2" stroke="#0a2e33" stroke-width="0.6"/>
<circle cx="208.06" cy="182.18" r="1.2" fill="#E8685F" stroke="#4a1a18" stroke-width="0.6"/>
<circle cx="212.23" cy="174.82" r="1.2" fill="#E8685F" stroke="#4a1a18" stroke-width="0.6"/>
<circle cx="212.53" cy="174.96" r="1.2" fill="#E8685F" stroke="#4a1a18" stroke-width="0.6"/>
<circle cx="207.28" cy="186.44" r="1.2" fill="#E8685F" stroke="#4a1a18" stroke-width="0.6"/>
<circle cx="208.73" cy="174.07" r="1.2" fill="#E8685F" stroke="#4a1a18" stroke-width="0.6"/>
<circle cx="211.95" cy="149.08" r="1.2" fill="#E8685F" stroke="#4a1a18" stroke-width="0.6"/>
<circle cx="212.08" cy="161.90" r="1.2" fill="#E8685F" stroke="#4a1a18" stroke-width="0.6"/>
<circle cx="208.74" cy="173.65" r="1.2" fill="#E8685F" stroke="#4a1a18" stroke-width="0.6"/>
<circle cx="208.70" cy="163.32" r="1.2" fill="#E8685F" stroke="#4a1a18" stroke-width="0.6"/>
<circle cx="208.40" cy="184.65" r="1.2" fill="#E8685F" stroke="#4a1a18" stroke-width="0.6"/>
<circle cx="210.71" cy="170.12" r="1.2" fill="#E8685F" stroke="#4a1a18" stroke-width="0.6"/>
<circle cx="212.08" cy="171.29" r="1.2" fill="#E8685F" stroke="#4a1a18" stroke-width="0.6"/>
<circle cx="211.42" cy="170.99" r="1.2" fill="#E8685F" stroke="#4a1a18" stroke-width="0.6"/>
<circle cx="208.89" cy="175.85" r="1.2" fill="#E8685F" stroke="#4a1a18" stroke-width="0.6"/>
<circle cx="210.82" cy="167.68" r="1.2" fill="#E8685F" stroke="#4a1a18" stroke-width="0.6"/>
<circle cx="210.27" cy="181.99" r="1.2" fill="#E8685F" stroke="#4a1a18" stroke-width="0.6"/>
<circle cx="210.15" cy="155.01" r="1.2" fill="#E8685F" stroke="#4a1a18" stroke-width="0.6"/>
<circle cx="210.48" cy="171.62" r="1.2" fill="#E8685F" stroke="#4a1a18" stroke-width="0.6"/>
<circle cx="210.63" cy="155.27" r="1.2" fill="#E8685F" stroke="#4a1a18" stroke-width="0.6"/>
<circle cx="210.04" cy="174.06" r="1.2" fill="#E8685F" stroke="#4a1a18" stroke-width="0.6"/>
<circle cx="209.34" cy="172.63" r="1.2" fill="#E8685F" stroke="#4a1a18" stroke-width="0.6"/>
<circle cx="211.74" cy="164.06" r="1.2" fill="#E8685F" stroke="#4a1a18" stroke-width="0.6"/>
<circle cx="209.97" cy="189.24" r="1.2" fill="#E8685F" stroke="#4a1a18" stroke-width="0.6"/>
<circle cx="212.87" cy="157.98" r="1.2" fill="#E8685F" stroke="#4a1a18" stroke-width="0.6"/>
<circle cx="206.75" cy="165.02" r="1.2" fill="#E8685F" stroke="#4a1a18" stroke-width="0.6"/>
<circle cx="211.36" cy="162.85" r="1.2" fill="#E8685F" stroke="#4a1a18" stroke-width="0.6"/>
<circle cx="213.18" cy="158.76" r="1.2" fill="#E8685F" stroke="#4a1a18" stroke-width="0.6"/>
<circle cx="211.72" cy="176.32" r="1.2" fill="#E8685F" stroke="#4a1a18" stroke-width="0.6"/>
<circle cx="208.70" cy="183.69" r="1.2" fill="#E8685F" stroke="#4a1a18" stroke-width="0.6"/>
<circle cx="210.33" cy="162.45" r="1.2" fill="#E8685F" stroke="#4a1a18" stroke-width="0.6"/>
<circle cx="210.79" cy="158.38" r="1.2" fill="#E8685F" stroke="#4a1a18" stroke-width="0.6"/>
<circle cx="211.86" cy="165.23" r="1.2" fill="#E8685F" stroke="#4a1a18" stroke-width="0.6"/>
<circle cx="212.10" cy="168.68" r="1.2" fill="#E8685F" stroke="#4a1a18" stroke-width="0.6"/>
<circle cx="211.26" cy="161.12" r="1.2" fill="#E8685F" stroke="#4a1a18" stroke-width="0.6"/>
<circle cx="209.94" cy="183.89" r="1.2" fill="#E8685F" stroke="#4a1a18" stroke-width="0.6"/>
<circle cx="209.43" cy="177.43" r="1.2" fill="#E8685F" stroke="#4a1a18" stroke-width="0.6"/>
<circle cx="212.12" cy="181.49" r="1.2" fill="#E8685F" stroke="#4a1a18" stroke-width="0.6"/>
<circle cx="210.66" cy="166.04" r="1.2" fill="#E8685F" stroke="#4a1a18" stroke-width="0.6"/>
<circle cx="211.34" cy="161.89" r="1.2" fill="#E8685F" stroke="#4a1a18" stroke-width="0.6"/>
<circle cx="210.76" cy="169.29" r="1.2" fill="#E8685F" stroke="#4a1a18" stroke-width="0.6"/>
<circle cx="212.24" cy="170.90" r="1.2" fill="#E8685F" stroke="#4a1a18" stroke-width="0.6"/>
<circle cx="213.34" cy="169.42" r="1.2" fill="#E8685F" stroke="#4a1a18" stroke-width="0.6"/>
<circle cx="208.44" cy="175.45" r="1.2" fill="#E8685F" stroke="#4a1a18" stroke-width="0.6"/>
<circle cx="210.63" cy="180.80" r="1.2" fill="#E8685F" stroke="#4a1a18" stroke-width="0.6"/>
<circle cx="211.21" cy="145.30" r="1.2" fill="#E8685F" stroke="#4a1a18" stroke-width="0.6"/>
<circle cx="210.65" cy="191.00" r="1.2" fill="#E8685F" stroke="#4a1a18" stroke-width="0.6"/>
<circle cx="210.50" cy="201.00" r="1.2" fill="#E8685F" stroke="#4a1a18" stroke-width="0.6"/>
<circle cx="211.70" cy="224.30" r="1.2" fill="#E8685F" stroke="#4a1a18" stroke-width="0.6"/>
<circle cx="240.01" cy="181.43" r="1.2" fill="#1BA5B2" stroke="#0a2e33" stroke-width="0.6"/>
<circle cx="241.49" cy="166.24" r="1.2" fill="#1BA5B2" stroke="#0a2e33" stroke-width="0.6"/>
<circle cx="240.16" cy="167.65" r="1.2" fill="#1BA5B2" stroke="#0a2e33" stroke-width="0.6"/>
<circle cx="242.06" cy="169.55" r="1.2" fill="#1BA5B2" stroke="#0a2e33" stroke-width="0.6"/>
<circle cx="240.38" cy="172.48" r="1.2" fill="#1BA5B2" stroke="#0a2e33" stroke-width="0.6"/>
<circle cx="241.16" cy="173.01" r="1.2" fill="#1BA5B2" stroke="#0a2e33" stroke-width="0.6"/>
<circle cx="241.58" cy="165.43" r="1.2" fill="#1BA5B2" stroke="#0a2e33" stroke-width="0.6"/>
<circle cx="244.60" cy="167.06" r="1.2" fill="#1BA5B2" stroke="#0a2e33" stroke-width="0.6"/>
<circle cx="237.05" cy="166.67" r="1.2" fill="#1BA5B2" stroke="#0a2e33" stroke-width="0.6"/>
<circle cx="240.15" cy="157.28" r="1.2" fill="#1BA5B2" stroke="#0a2e33" stroke-width="0.6"/>
<circle cx="241.30" cy="159.98" r="1.2" fill="#1BA5B2" stroke="#0a2e33" stroke-width="0.6"/>
<circle cx="240.60" cy="175.77" r="1.2" fill="#1BA5B2" stroke="#0a2e33" stroke-width="0.6"/>
<circle cx="238.64" cy="168.52" r="1.2" fill="#1BA5B2" stroke="#0a2e33" stroke-width="0.6"/>
<circle cx="242.02" cy="167.62" r="1.2" fill="#1BA5B2" stroke="#0a2e33" stroke-width="0.6"/>
<circle cx="241.18" cy="176.63" r="1.2" fill="#1BA5B2" stroke="#0a2e33" stroke-width="0.6"/>
<circle cx="241.46" cy="174.33" r="1.2" fill="#1BA5B2" stroke="#0a2e33" stroke-width="0.6"/>
<circle cx="239.59" cy="167.19" r="1.2" fill="#1BA5B2" stroke="#0a2e33" stroke-width="0.6"/>
<circle cx="244.14" cy="168.14" r="1.2" fill="#1BA5B2" stroke="#0a2e33" stroke-width="0.6"/>
<circle cx="239.55" cy="176.41" r="1.2" fill="#1BA5B2" stroke="#0a2e33" stroke-width="0.6"/>
<circle cx="242.31" cy="164.11" r="1.2" fill="#1BA5B2" stroke="#0a2e33" stroke-width="0.6"/>
<circle cx="239.29" cy="170.80" r="1.2" fill="#1BA5B2" stroke="#0a2e33" stroke-width="0.6"/>
<circle cx="242.31" cy="170.45" r="1.2" fill="#1BA5B2" stroke="#0a2e33" stroke-width="0.6"/>
<circle cx="237.28" cy="177.22" r="1.2" fill="#1BA5B2" stroke="#0a2e33" stroke-width="0.6"/>
<circle cx="237.75" cy="158.49" r="1.2" fill="#1BA5B2" stroke="#0a2e33" stroke-width="0.6"/>
<circle cx="240.20" cy="182.64" r="1.2" fill="#1BA5B2" stroke="#0a2e33" stroke-width="0.6"/>
<circle cx="238.28" cy="175.08" r="1.2" fill="#1BA5B2" stroke="#0a2e33" stroke-width="0.6"/>
<circle cx="241.24" cy="164.62" r="1.2" fill="#1BA5B2" stroke="#0a2e33" stroke-width="0.6"/>
<circle cx="239.61" cy="165.51" r="1.2" fill="#1BA5B2" stroke="#0a2e33" stroke-width="0.6"/>
<circle cx="239.32" cy="159.90" r="1.2" fill="#1BA5B2" stroke="#0a2e33" stroke-width="0.6"/>
<circle cx="241.15" cy="174.71" r="1.2" fill="#1BA5B2" stroke="#0a2e33" stroke-width="0.6"/>
<circle cx="241.07" cy="174.06" r="1.2" fill="#1BA5B2" stroke="#0a2e33" stroke-width="0.6"/>
<circle cx="240.38" cy="167.07" r="1.2" fill="#1BA5B2" stroke="#0a2e33" stroke-width="0.6"/>
<circle cx="240.44" cy="168.21" r="1.2" fill="#1BA5B2" stroke="#0a2e33" stroke-width="0.6"/>
<circle cx="242.21" cy="181.44" r="1.2" fill="#1BA5B2" stroke="#0a2e33" stroke-width="0.6"/>
<circle cx="239.16" cy="159.84" r="1.2" fill="#1BA5B2" stroke="#0a2e33" stroke-width="0.6"/>
<circle cx="240.46" cy="182.37" r="1.2" fill="#1BA5B2" stroke="#0a2e33" stroke-width="0.6"/>
<circle cx="240.97" cy="169.24" r="1.2" fill="#1BA5B2" stroke="#0a2e33" stroke-width="0.6"/>
<circle cx="238.45" cy="167.23" r="1.2" fill="#1BA5B2" stroke="#0a2e33" stroke-width="0.6"/>
<circle cx="236.84" cy="155.69" r="1.2" fill="#1BA5B2" stroke="#0a2e33" stroke-width="0.6"/>
<circle cx="240.08" cy="168.02" r="1.2" fill="#1BA5B2" stroke="#0a2e33" stroke-width="0.6"/>
<circle cx="239.45" cy="182.93" r="1.2" fill="#1BA5B2" stroke="#0a2e33" stroke-width="0.6"/>
<circle cx="242.21" cy="171.95" r="1.2" fill="#1BA5B2" stroke="#0a2e33" stroke-width="0.6"/>
<circle cx="240.29" cy="177.12" r="1.2" fill="#1BA5B2" stroke="#0a2e33" stroke-width="0.6"/>
<circle cx="239.30" cy="164.47" r="1.2" fill="#1BA5B2" stroke="#0a2e33" stroke-width="0.6"/>
<circle cx="240.59" cy="152.80" r="1.2" fill="#1BA5B2" stroke="#0a2e33" stroke-width="0.6"/>
<circle cx="239.97" cy="188.00" r="1.2" fill="#1BA5B2" stroke="#0a2e33" stroke-width="0.6"/>
<circle cx="239.00" cy="192.80" r="1.2" fill="#1BA5B2" stroke="#0a2e33" stroke-width="0.6"/>
<circle cx="241.00" cy="195.30" r="1.2" fill="#1BA5B2" stroke="#0a2e33" stroke-width="0.6"/>
<circle cx="240.50" cy="199.40" r="1.2" fill="#1BA5B2" stroke="#0a2e33" stroke-width="0.6"/>
<circle cx="240.00" cy="224.30" r="1.2" fill="#1BA5B2" stroke="#0a2e33" stroke-width="0.6"/>
<circle cx="330.00" cy="168.71" r="1.2" fill="#E8685F" stroke="#4a1a18" stroke-width="0.6"/>
<circle cx="327.15" cy="197.89" r="1.2" fill="#E8685F" stroke="#4a1a18" stroke-width="0.6"/>
<circle cx="327.51" cy="174.19" r="1.2" fill="#E8685F" stroke="#4a1a18" stroke-width="0.6"/>
<circle cx="327.77" cy="161.52" r="1.2" fill="#E8685F" stroke="#4a1a18" stroke-width="0.6"/>
<circle cx="326.70" cy="228.16" r="1.2" fill="#E8685F" stroke="#4a1a18" stroke-width="0.6"/>
<circle cx="327.54" cy="198.57" r="1.2" fill="#E8685F" stroke="#4a1a18" stroke-width="0.6"/>
<circle cx="325.29" cy="173.89" r="1.2" fill="#E8685F" stroke="#4a1a18" stroke-width="0.6"/>
<circle cx="325.05" cy="185.24" r="1.2" fill="#E8685F" stroke="#4a1a18" stroke-width="0.6"/>
<circle cx="324.41" cy="177.85" r="1.2" fill="#E8685F" stroke="#4a1a18" stroke-width="0.6"/>
<circle cx="325.67" cy="158.16" r="1.2" fill="#E8685F" stroke="#4a1a18" stroke-width="0.6"/>
<circle cx="327.74" cy="199.31" r="1.2" fill="#E8685F" stroke="#4a1a18" stroke-width="0.6"/>
<circle cx="323.81" cy="200.48" r="1.2" fill="#E8685F" stroke="#4a1a18" stroke-width="0.6"/>
<circle cx="328.77" cy="206.21" r="1.2" fill="#E8685F" stroke="#4a1a18" stroke-width="0.6"/>
<circle cx="323.03" cy="169.40" r="1.2" fill="#E8685F" stroke="#4a1a18" stroke-width="0.6"/>
<circle cx="329.06" cy="168.01" r="1.2" fill="#E8685F" stroke="#4a1a18" stroke-width="0.6"/>
<circle cx="323.06" cy="198.65" r="1.2" fill="#E8685F" stroke="#4a1a18" stroke-width="0.6"/>
<circle cx="327.85" cy="198.69" r="1.2" fill="#E8685F" stroke="#4a1a18" stroke-width="0.6"/>
<circle cx="327.28" cy="161.93" r="1.2" fill="#E8685F" stroke="#4a1a18" stroke-width="0.6"/>
<circle cx="325.30" cy="197.20" r="1.2" fill="#E8685F" stroke="#4a1a18" stroke-width="0.6"/>
<circle cx="328.54" cy="177.23" r="1.2" fill="#E8685F" stroke="#4a1a18" stroke-width="0.6"/>
<circle cx="325.31" cy="181.85" r="1.2" fill="#E8685F" stroke="#4a1a18" stroke-width="0.6"/>
<circle cx="329.19" cy="177.27" r="1.2" fill="#E8685F" stroke="#4a1a18" stroke-width="0.6"/>
<circle cx="326.08" cy="214.33" r="1.2" fill="#E8685F" stroke="#4a1a18" stroke-width="0.6"/>
<circle cx="326.22" cy="198.63" r="1.2" fill="#E8685F" stroke="#4a1a18" stroke-width="0.6"/>
<circle cx="328.15" cy="232.79" r="1.2" fill="#E8685F" stroke="#4a1a18" stroke-width="0.6"/>
<circle cx="324.00" cy="177.01" r="1.2" fill="#E8685F" stroke="#4a1a18" stroke-width="0.6"/>
<circle cx="326.94" cy="200.08" r="1.2" fill="#E8685F" stroke="#4a1a18" stroke-width="0.6"/>
<circle cx="327.44" cy="219.62" r="1.2" fill="#E8685F" stroke="#4a1a18" stroke-width="0.6"/>
<circle cx="323.06" cy="189.32" r="1.2" fill="#E8685F" stroke="#4a1a18" stroke-width="0.6"/>
<circle cx="326.16" cy="178.16" r="1.2" fill="#E8685F" stroke="#4a1a18" stroke-width="0.6"/>
<circle cx="325.24" cy="172.30" r="1.2" fill="#E8685F" stroke="#4a1a18" stroke-width="0.6"/>
<circle cx="328.36" cy="162.01" r="1.2" fill="#E8685F" stroke="#4a1a18" stroke-width="0.6"/>
<circle cx="326.51" cy="184.59" r="1.2" fill="#E8685F" stroke="#4a1a18" stroke-width="0.6"/>
<circle cx="325.93" cy="235.14" r="1.2" fill="#E8685F" stroke="#4a1a18" stroke-width="0.6"/>
<circle cx="326.79" cy="169.69" r="1.2" fill="#E8685F" stroke="#4a1a18" stroke-width="0.6"/>
<circle cx="326.20" cy="190.97" r="1.2" fill="#E8685F" stroke="#4a1a18" stroke-width="0.6"/>
<circle cx="327.96" cy="194.10" r="1.2" fill="#E8685F" stroke="#4a1a18" stroke-width="0.6"/>
<circle cx="325.51" cy="196.49" r="1.2" fill="#E8685F" stroke="#4a1a18" stroke-width="0.6"/>
<circle cx="325.17" cy="202.25" r="1.2" fill="#E8685F" stroke="#4a1a18" stroke-width="0.6"/>
<circle cx="325.91" cy="189.95" r="1.2" fill="#E8685F" stroke="#4a1a18" stroke-width="0.6"/>
<circle cx="324.74" cy="166.20" r="1.2" fill="#E8685F" stroke="#4a1a18" stroke-width="0.6"/>
<circle cx="324.51" cy="173.46" r="1.2" fill="#E8685F" stroke="#4a1a18" stroke-width="0.6"/>
<circle cx="325.20" cy="184.72" r="1.2" fill="#E8685F" stroke="#4a1a18" stroke-width="0.6"/>
<circle cx="326.99" cy="187.99" r="1.2" fill="#E8685F" stroke="#4a1a18" stroke-width="0.6"/>
<circle cx="326.98" cy="156.90" r="1.2" fill="#E8685F" stroke="#4a1a18" stroke-width="0.6"/>
<circle cx="325.20" cy="236.00" r="1.2" fill="#E8685F" stroke="#4a1a18" stroke-width="0.6"/>
<circle cx="325.50" cy="226.70" r="1.2" fill="#E8685F" stroke="#4a1a18" stroke-width="0.6"/>
<circle cx="326.00" cy="230.00" r="1.2" fill="#E8685F" stroke="#4a1a18" stroke-width="0.6"/>
<circle cx="327.00" cy="233.00" r="1.2" fill="#E8685F" stroke="#4a1a18" stroke-width="0.6"/>
<circle cx="325.50" cy="237.00" r="1.2" fill="#E8685F" stroke="#4a1a18" stroke-width="0.6"/>
<circle cx="328.00" cy="240.50" r="1.2" fill="#E8685F" stroke="#4a1a18" stroke-width="0.6"/>
<circle cx="328.80" cy="117.00" r="1.2" fill="#E8685F" stroke="#4a1a18" stroke-width="0.6"/>
<circle cx="355.22" cy="172.81" r="1.2" fill="#1BA5B2" stroke="#0a2e33" stroke-width="0.6"/>
<circle cx="359.33" cy="201.46" r="1.2" fill="#1BA5B2" stroke="#0a2e33" stroke-width="0.6"/>
<circle cx="358.20" cy="165.11" r="1.2" fill="#1BA5B2" stroke="#0a2e33" stroke-width="0.6"/>
<circle cx="359.46" cy="191.43" r="1.2" fill="#1BA5B2" stroke="#0a2e33" stroke-width="0.6"/>
<circle cx="357.02" cy="188.52" r="1.2" fill="#1BA5B2" stroke="#0a2e33" stroke-width="0.6"/>
<circle cx="358.65" cy="172.61" r="1.2" fill="#1BA5B2" stroke="#0a2e33" stroke-width="0.6"/>
<circle cx="357.50" cy="180.09" r="1.2" fill="#1BA5B2" stroke="#0a2e33" stroke-width="0.6"/>
<circle cx="358.61" cy="166.27" r="1.2" fill="#1BA5B2" stroke="#0a2e33" stroke-width="0.6"/>
<circle cx="358.80" cy="171.74" r="1.2" fill="#1BA5B2" stroke="#0a2e33" stroke-width="0.6"/>
<circle cx="359.49" cy="175.80" r="1.2" fill="#1BA5B2" stroke="#0a2e33" stroke-width="0.6"/>
<circle cx="357.92" cy="175.61" r="1.2" fill="#1BA5B2" stroke="#0a2e33" stroke-width="0.6"/>
<circle cx="358.47" cy="169.80" r="1.2" fill="#1BA5B2" stroke="#0a2e33" stroke-width="0.6"/>
<circle cx="355.50" cy="164.30" r="1.2" fill="#1BA5B2" stroke="#0a2e33" stroke-width="0.6"/>
<circle cx="357.27" cy="171.50" r="1.2" fill="#1BA5B2" stroke="#0a2e33" stroke-width="0.6"/>
<circle cx="357.16" cy="167.74" r="1.2" fill="#1BA5B2" stroke="#0a2e33" stroke-width="0.6"/>
<circle cx="356.14" cy="170.19" r="1.2" fill="#1BA5B2" stroke="#0a2e33" stroke-width="0.6"/>
<circle cx="361.80" cy="171.58" r="1.2" fill="#1BA5B2" stroke="#0a2e33" stroke-width="0.6"/>
<circle cx="361.80" cy="170.84" r="1.2" fill="#1BA5B2" stroke="#0a2e33" stroke-width="0.6"/>
<circle cx="353.80" cy="169.77" r="1.2" fill="#1BA5B2" stroke="#0a2e33" stroke-width="0.6"/>
<circle cx="361.80" cy="175.80" r="1.2" fill="#1BA5B2" stroke="#0a2e33" stroke-width="0.6"/>
<circle cx="357.95" cy="172.82" r="1.2" fill="#1BA5B2" stroke="#0a2e33" stroke-width="0.6"/>
<circle cx="356.70" cy="173.13" r="1.2" fill="#1BA5B2" stroke="#0a2e33" stroke-width="0.6"/>
<circle cx="358.08" cy="167.16" r="1.2" fill="#1BA5B2" stroke="#0a2e33" stroke-width="0.6"/>
<circle cx="360.05" cy="183.07" r="1.2" fill="#1BA5B2" stroke="#0a2e33" stroke-width="0.6"/>
<circle cx="359.21" cy="171.27" r="1.2" fill="#1BA5B2" stroke="#0a2e33" stroke-width="0.6"/>
<circle cx="353.80" cy="165.77" r="1.2" fill="#1BA5B2" stroke="#0a2e33" stroke-width="0.6"/>
<circle cx="357.23" cy="166.88" r="1.2" fill="#1BA5B2" stroke="#0a2e33" stroke-width="0.6"/>
<circle cx="358.12" cy="203.42" r="1.2" fill="#1BA5B2" stroke="#0a2e33" stroke-width="0.6"/>
<circle cx="358.74" cy="203.75" r="1.2" fill="#1BA5B2" stroke="#0a2e33" stroke-width="0.6"/>
<circle cx="359.48" cy="169.06" r="1.2" fill="#1BA5B2" stroke="#0a2e33" stroke-width="0.6"/>
<circle cx="356.96" cy="192.36" r="1.2" fill="#1BA5B2" stroke="#0a2e33" stroke-width="0.6"/>
<circle cx="358.10" cy="184.64" r="1.2" fill="#1BA5B2" stroke="#0a2e33" stroke-width="0.6"/>
<circle cx="356.49" cy="172.95" r="1.2" fill="#1BA5B2" stroke="#0a2e33" stroke-width="0.6"/>
<circle cx="358.18" cy="184.82" r="1.2" fill="#1BA5B2" stroke="#0a2e33" stroke-width="0.6"/>
<circle cx="359.68" cy="177.65" r="1.2" fill="#1BA5B2" stroke="#0a2e33" stroke-width="0.6"/>
<circle cx="357.16" cy="165.53" r="1.2" fill="#1BA5B2" stroke="#0a2e33" stroke-width="0.6"/>
<circle cx="353.80" cy="167.20" r="1.2" fill="#1BA5B2" stroke="#0a2e33" stroke-width="0.6"/>
<circle cx="358.30" cy="184.04" r="1.2" fill="#1BA5B2" stroke="#0a2e33" stroke-width="0.6"/>
<circle cx="356.99" cy="179.37" r="1.2" fill="#1BA5B2" stroke="#0a2e33" stroke-width="0.6"/>
<circle cx="355.60" cy="176.85" r="1.2" fill="#1BA5B2" stroke="#0a2e33" stroke-width="0.6"/>
<circle cx="359.01" cy="172.03" r="1.2" fill="#1BA5B2" stroke="#0a2e33" stroke-width="0.6"/>
<circle cx="360.41" cy="170.95" r="1.2" fill="#1BA5B2" stroke="#0a2e33" stroke-width="0.6"/>
<circle cx="358.19" cy="169.95" r="1.2" fill="#1BA5B2" stroke="#0a2e33" stroke-width="0.6"/>
<circle cx="356.65" cy="196.91" r="1.2" fill="#1BA5B2" stroke="#0a2e33" stroke-width="0.6"/>
<circle cx="357.75" cy="161.80" r="1.2" fill="#1BA5B2" stroke="#0a2e33" stroke-width="0.6"/>
<circle cx="357.01" cy="204.70" r="1.2" fill="#1BA5B2" stroke="#0a2e33" stroke-width="0.6"/>
<circle cx="357.30" cy="236.80" r="1.2" fill="#1BA5B2" stroke="#0a2e33" stroke-width="0.6"/>
<circle cx="405.91" cy="154.40" r="1.2" fill="#E8685F" stroke="#4a1a18" stroke-width="0.6"/>
<circle cx="405.05" cy="154.52" r="1.2" fill="#E8685F" stroke="#4a1a18" stroke-width="0.6"/>
<circle cx="405.57" cy="165.95" r="1.2" fill="#E8685F" stroke="#4a1a18" stroke-width="0.6"/>
<circle cx="404.97" cy="172.28" r="1.2" fill="#E8685F" stroke="#4a1a18" stroke-width="0.6"/>
<circle cx="405.55" cy="168.64" r="1.2" fill="#E8685F" stroke="#4a1a18" stroke-width="0.6"/>
<circle cx="409.55" cy="174.52" r="1.2" fill="#E8685F" stroke="#4a1a18" stroke-width="0.6"/>
<circle cx="401.60" cy="172.62" r="1.2" fill="#E8685F" stroke="#4a1a18" stroke-width="0.6"/>
<circle cx="401.60" cy="158.98" r="1.2" fill="#E8685F" stroke="#4a1a18" stroke-width="0.6"/>
<circle cx="405.84" cy="174.62" r="1.2" fill="#E8685F" stroke="#4a1a18" stroke-width="0.6"/>
<circle cx="407.22" cy="182.94" r="1.2" fill="#E8685F" stroke="#4a1a18" stroke-width="0.6"/>
<circle cx="406.31" cy="174.60" r="1.2" fill="#E8685F" stroke="#4a1a18" stroke-width="0.6"/>
<circle cx="406.02" cy="175.15" r="1.2" fill="#E8685F" stroke="#4a1a18" stroke-width="0.6"/>
<circle cx="404.63" cy="173.57" r="1.2" fill="#E8685F" stroke="#4a1a18" stroke-width="0.6"/>
<circle cx="403.94" cy="152.37" r="1.2" fill="#E8685F" stroke="#4a1a18" stroke-width="0.6"/>
<circle cx="405.54" cy="151.12" r="1.2" fill="#E8685F" stroke="#4a1a18" stroke-width="0.6"/>
<circle cx="403.87" cy="158.67" r="1.2" fill="#E8685F" stroke="#4a1a18" stroke-width="0.6"/>
<circle cx="401.95" cy="157.56" r="1.2" fill="#E8685F" stroke="#4a1a18" stroke-width="0.6"/>
<circle cx="404.42" cy="155.40" r="1.2" fill="#E8685F" stroke="#4a1a18" stroke-width="0.6"/>
<circle cx="404.24" cy="177.54" r="1.2" fill="#E8685F" stroke="#4a1a18" stroke-width="0.6"/>
<circle cx="409.60" cy="173.23" r="1.2" fill="#E8685F" stroke="#4a1a18" stroke-width="0.6"/>
<circle cx="409.25" cy="168.79" r="1.2" fill="#E8685F" stroke="#4a1a18" stroke-width="0.6"/>
<circle cx="408.09" cy="175.09" r="1.2" fill="#E8685F" stroke="#4a1a18" stroke-width="0.6"/>
<circle cx="405.45" cy="163.76" r="1.2" fill="#E8685F" stroke="#4a1a18" stroke-width="0.6"/>
<circle cx="405.58" cy="160.18" r="1.2" fill="#E8685F" stroke="#4a1a18" stroke-width="0.6"/>
<circle cx="405.00" cy="175.03" r="1.2" fill="#E8685F" stroke="#4a1a18" stroke-width="0.6"/>
<circle cx="403.19" cy="174.15" r="1.2" fill="#E8685F" stroke="#4a1a18" stroke-width="0.6"/>
<circle cx="404.16" cy="159.11" r="1.2" fill="#E8685F" stroke="#4a1a18" stroke-width="0.6"/>
<circle cx="404.09" cy="150.53" r="1.2" fill="#E8685F" stroke="#4a1a18" stroke-width="0.6"/>
<circle cx="404.25" cy="173.35" r="1.2" fill="#E8685F" stroke="#4a1a18" stroke-width="0.6"/>
<circle cx="405.37" cy="151.85" r="1.2" fill="#E8685F" stroke="#4a1a18" stroke-width="0.6"/>
<circle cx="405.27" cy="153.55" r="1.2" fill="#E8685F" stroke="#4a1a18" stroke-width="0.6"/>
<circle cx="406.00" cy="153.57" r="1.2" fill="#E8685F" stroke="#4a1a18" stroke-width="0.6"/>
<circle cx="408.08" cy="167.06" r="1.2" fill="#E8685F" stroke="#4a1a18" stroke-width="0.6"/>
<circle cx="408.56" cy="169.52" r="1.2" fill="#E8685F" stroke="#4a1a18" stroke-width="0.6"/>
<circle cx="408.94" cy="150.53" r="1.2" fill="#E8685F" stroke="#4a1a18" stroke-width="0.6"/>
<circle cx="407.89" cy="156.37" r="1.2" fill="#E8685F" stroke="#4a1a18" stroke-width="0.6"/>
<circle cx="403.20" cy="160.71" r="1.2" fill="#E8685F" stroke="#4a1a18" stroke-width="0.6"/>
<circle cx="403.97" cy="156.43" r="1.2" fill="#E8685F" stroke="#4a1a18" stroke-width="0.6"/>
<circle cx="404.93" cy="169.24" r="1.2" fill="#E8685F" stroke="#4a1a18" stroke-width="0.6"/>
<circle cx="405.64" cy="179.79" r="1.2" fill="#E8685F" stroke="#4a1a18" stroke-width="0.6"/>
<circle cx="409.60" cy="155.41" r="1.2" fill="#E8685F" stroke="#4a1a18" stroke-width="0.6"/>
<circle cx="408.68" cy="160.55" r="1.2" fill="#E8685F" stroke="#4a1a18" stroke-width="0.6"/>
<circle cx="404.62" cy="144.20" r="1.2" fill="#E8685F" stroke="#4a1a18" stroke-width="0.6"/>
<circle cx="405.70" cy="184.20" r="1.2" fill="#E8685F" stroke="#4a1a18" stroke-width="0.6"/>
<circle cx="404.20" cy="199.30" r="1.2" fill="#E8685F" stroke="#4a1a18" stroke-width="0.6"/>
<circle cx="404.00" cy="233.00" r="1.2" fill="#E8685F" stroke="#4a1a18" stroke-width="0.6"/>
<circle cx="406.00" cy="234.50" r="1.2" fill="#E8685F" stroke="#4a1a18" stroke-width="0.6"/>
<circle cx="408.00" cy="236.50" r="1.2" fill="#E8685F" stroke="#4a1a18" stroke-width="0.6"/>
<circle cx="410.00" cy="235.00" r="1.2" fill="#E8685F" stroke="#4a1a18" stroke-width="0.6"/>
<circle cx="407.00" cy="238.50" r="1.2" fill="#E8685F" stroke="#4a1a18" stroke-width="0.6"/>
<circle cx="409.00" cy="240.50" r="1.2" fill="#E8685F" stroke="#4a1a18" stroke-width="0.6"/>
<circle cx="438.68" cy="181.63" r="1.2" fill="#1BA5B2" stroke="#0a2e33" stroke-width="0.6"/>
<circle cx="434.78" cy="154.75" r="1.2" fill="#1BA5B2" stroke="#0a2e33" stroke-width="0.6"/>
<circle cx="437.38" cy="181.93" r="1.2" fill="#1BA5B2" stroke="#0a2e33" stroke-width="0.6"/>
<circle cx="441.30" cy="161.28" r="1.2" fill="#1BA5B2" stroke="#0a2e33" stroke-width="0.6"/>
<circle cx="438.70" cy="194.55" r="1.2" fill="#1BA5B2" stroke="#0a2e33" stroke-width="0.6"/>
<circle cx="437.44" cy="157.83" r="1.2" fill="#1BA5B2" stroke="#0a2e33" stroke-width="0.6"/>
<circle cx="435.38" cy="172.35" r="1.2" fill="#1BA5B2" stroke="#0a2e33" stroke-width="0.6"/>
<circle cx="437.56" cy="144.19" r="1.2" fill="#1BA5B2" stroke="#0a2e33" stroke-width="0.6"/>
<circle cx="438.03" cy="163.80" r="1.2" fill="#1BA5B2" stroke="#0a2e33" stroke-width="0.6"/>
<circle cx="437.14" cy="178.56" r="1.2" fill="#1BA5B2" stroke="#0a2e33" stroke-width="0.6"/>
<circle cx="436.05" cy="172.09" r="1.2" fill="#1BA5B2" stroke="#0a2e33" stroke-width="0.6"/>
<circle cx="437.24" cy="188.48" r="1.2" fill="#1BA5B2" stroke="#0a2e33" stroke-width="0.6"/>
<circle cx="440.21" cy="182.40" r="1.2" fill="#1BA5B2" stroke="#0a2e33" stroke-width="0.6"/>
<circle cx="437.41" cy="181.01" r="1.2" fill="#1BA5B2" stroke="#0a2e33" stroke-width="0.6"/>
<circle cx="438.89" cy="180.13" r="1.2" fill="#1BA5B2" stroke="#0a2e33" stroke-width="0.6"/>
<circle cx="438.74" cy="170.36" r="1.2" fill="#1BA5B2" stroke="#0a2e33" stroke-width="0.6"/>
<circle cx="436.34" cy="158.57" r="1.2" fill="#1BA5B2" stroke="#0a2e33" stroke-width="0.6"/>
<circle cx="434.82" cy="176.15" r="1.2" fill="#1BA5B2" stroke="#0a2e33" stroke-width="0.6"/>
<circle cx="433.50" cy="164.30" r="1.2" fill="#1BA5B2" stroke="#0a2e33" stroke-width="0.6"/>
<circle cx="434.68" cy="178.75" r="1.2" fill="#1BA5B2" stroke="#0a2e33" stroke-width="0.6"/>
<circle cx="438.67" cy="170.06" r="1.2" fill="#1BA5B2" stroke="#0a2e33" stroke-width="0.6"/>
<circle cx="441.19" cy="154.95" r="1.2" fill="#1BA5B2" stroke="#0a2e33" stroke-width="0.6"/>
<circle cx="439.46" cy="140.16" r="1.2" fill="#1BA5B2" stroke="#0a2e33" stroke-width="0.6"/>
<circle cx="436.91" cy="158.81" r="1.2" fill="#1BA5B2" stroke="#0a2e33" stroke-width="0.6"/>
<circle cx="438.37" cy="141.19" r="1.2" fill="#1BA5B2" stroke="#0a2e33" stroke-width="0.6"/>
<circle cx="436.49" cy="175.22" r="1.2" fill="#1BA5B2" stroke="#0a2e33" stroke-width="0.6"/>
<circle cx="434.57" cy="154.49" r="1.2" fill="#1BA5B2" stroke="#0a2e33" stroke-width="0.6"/>
<circle cx="439.19" cy="164.18" r="1.2" fill="#1BA5B2" stroke="#0a2e33" stroke-width="0.6"/>
<circle cx="433.87" cy="158.10" r="1.2" fill="#1BA5B2" stroke="#0a2e33" stroke-width="0.6"/>
<circle cx="438.51" cy="203.96" r="1.2" fill="#1BA5B2" stroke="#0a2e33" stroke-width="0.6"/>
<circle cx="438.30" cy="140.71" r="1.2" fill="#1BA5B2" stroke="#0a2e33" stroke-width="0.6"/>
<circle cx="435.14" cy="198.24" r="1.2" fill="#1BA5B2" stroke="#0a2e33" stroke-width="0.6"/>
<circle cx="434.85" cy="169.74" r="1.2" fill="#1BA5B2" stroke="#0a2e33" stroke-width="0.6"/>
<circle cx="437.56" cy="143.90" r="1.2" fill="#1BA5B2" stroke="#0a2e33" stroke-width="0.6"/>
<circle cx="436.21" cy="161.97" r="1.2" fill="#1BA5B2" stroke="#0a2e33" stroke-width="0.6"/>
<circle cx="436.89" cy="148.52" r="1.2" fill="#1BA5B2" stroke="#0a2e33" stroke-width="0.6"/>
<circle cx="440.45" cy="161.40" r="1.2" fill="#1BA5B2" stroke="#0a2e33" stroke-width="0.6"/>
<circle cx="439.07" cy="187.96" r="1.2" fill="#1BA5B2" stroke="#0a2e33" stroke-width="0.6"/>
<circle cx="435.38" cy="151.65" r="1.2" fill="#1BA5B2" stroke="#0a2e33" stroke-width="0.6"/>
<circle cx="435.80" cy="163.93" r="1.2" fill="#1BA5B2" stroke="#0a2e33" stroke-width="0.6"/>
<circle cx="439.94" cy="168.62" r="1.2" fill="#1BA5B2" stroke="#0a2e33" stroke-width="0.6"/>
<circle cx="437.99" cy="181.27" r="1.2" fill="#1BA5B2" stroke="#0a2e33" stroke-width="0.6"/>
<circle cx="436.45" cy="147.18" r="1.2" fill="#1BA5B2" stroke="#0a2e33" stroke-width="0.6"/>
<circle cx="439.71" cy="205.53" r="1.2" fill="#1BA5B2" stroke="#0a2e33" stroke-width="0.6"/>
<circle cx="437.48" cy="135.40" r="1.2" fill="#1BA5B2" stroke="#0a2e33" stroke-width="0.6"/>
<circle cx="438.09" cy="206.60" r="1.2" fill="#1BA5B2" stroke="#0a2e33" stroke-width="0.6"/>
<circle cx="433.70" cy="218.10" r="1.2" fill="#1BA5B2" stroke="#0a2e33" stroke-width="0.6"/>
<circle cx="437.50" cy="227.30" r="1.2" fill="#1BA5B2" stroke="#0a2e33" stroke-width="0.6"/>
<circle cx="436.00" cy="233.00" r="1.2" fill="#1BA5B2" stroke="#0a2e33" stroke-width="0.6"/>
<circle cx="438.00" cy="235.00" r="1.2" fill="#1BA5B2" stroke="#0a2e33" stroke-width="0.6"/>
<circle cx="437.00" cy="237.90" r="1.2" fill="#1BA5B2" stroke="#0a2e33" stroke-width="0.6"/>
<circle cx="434.00" cy="239.50" r="1.2" fill="#1BA5B2" stroke="#0a2e33" stroke-width="0.6"/>
<circle cx="485.56" cy="153.31" r="1.2" fill="#E8685F" stroke="#4a1a18" stroke-width="0.6"/>
<circle cx="485.20" cy="167.58" r="1.2" fill="#E8685F" stroke="#4a1a18" stroke-width="0.6"/>
<circle cx="489.50" cy="160.18" r="1.2" fill="#E8685F" stroke="#4a1a18" stroke-width="0.6"/>
<circle cx="487.58" cy="172.69" r="1.2" fill="#E8685F" stroke="#4a1a18" stroke-width="0.6"/>
<circle cx="487.22" cy="155.99" r="1.2" fill="#E8685F" stroke="#4a1a18" stroke-width="0.6"/>
<circle cx="484.26" cy="174.48" r="1.2" fill="#E8685F" stroke="#4a1a18" stroke-width="0.6"/>
<circle cx="484.22" cy="162.34" r="1.2" fill="#E8685F" stroke="#4a1a18" stroke-width="0.6"/>
<circle cx="485.83" cy="175.94" r="1.2" fill="#E8685F" stroke="#4a1a18" stroke-width="0.6"/>
<circle cx="485.22" cy="150.47" r="1.2" fill="#E8685F" stroke="#4a1a18" stroke-width="0.6"/>
<circle cx="482.64" cy="179.70" r="1.2" fill="#E8685F" stroke="#4a1a18" stroke-width="0.6"/>
<circle cx="488.21" cy="152.95" r="1.2" fill="#E8685F" stroke="#4a1a18" stroke-width="0.6"/>
<circle cx="485.55" cy="174.28" r="1.2" fill="#E8685F" stroke="#4a1a18" stroke-width="0.6"/>
<circle cx="482.76" cy="161.52" r="1.2" fill="#E8685F" stroke="#4a1a18" stroke-width="0.6"/>
<circle cx="483.86" cy="156.43" r="1.2" fill="#E8685F" stroke="#4a1a18" stroke-width="0.6"/>
<circle cx="482.84" cy="152.71" r="1.2" fill="#E8685F" stroke="#4a1a18" stroke-width="0.6"/>
<circle cx="486.99" cy="180.94" r="1.2" fill="#E8685F" stroke="#4a1a18" stroke-width="0.6"/>
<circle cx="487.01" cy="176.75" r="1.2" fill="#E8685F" stroke="#4a1a18" stroke-width="0.6"/>
<circle cx="484.44" cy="151.01" r="1.2" fill="#E8685F" stroke="#4a1a18" stroke-width="0.6"/>
<circle cx="482.00" cy="148.65" r="1.2" fill="#E8685F" stroke="#4a1a18" stroke-width="0.6"/>
<circle cx="484.39" cy="151.35" r="1.2" fill="#E8685F" stroke="#4a1a18" stroke-width="0.6"/>
<circle cx="485.34" cy="159.87" r="1.2" fill="#E8685F" stroke="#4a1a18" stroke-width="0.6"/>
<circle cx="489.40" cy="183.75" r="1.2" fill="#E8685F" stroke="#4a1a18" stroke-width="0.6"/>
<circle cx="488.41" cy="152.07" r="1.2" fill="#E8685F" stroke="#4a1a18" stroke-width="0.6"/>
<circle cx="485.29" cy="185.17" r="1.2" fill="#E8685F" stroke="#4a1a18" stroke-width="0.6"/>
<circle cx="483.48" cy="154.71" r="1.2" fill="#E8685F" stroke="#4a1a18" stroke-width="0.6"/>
<circle cx="485.12" cy="149.57" r="1.2" fill="#E8685F" stroke="#4a1a18" stroke-width="0.6"/>
<circle cx="485.82" cy="167.09" r="1.2" fill="#E8685F" stroke="#4a1a18" stroke-width="0.6"/>
<circle cx="484.07" cy="172.70" r="1.2" fill="#E8685F" stroke="#4a1a18" stroke-width="0.6"/>
<circle cx="483.93" cy="154.39" r="1.2" fill="#E8685F" stroke="#4a1a18" stroke-width="0.6"/>
<circle cx="487.19" cy="166.49" r="1.2" fill="#E8685F" stroke="#4a1a18" stroke-width="0.6"/>
<circle cx="484.40" cy="174.24" r="1.2" fill="#E8685F" stroke="#4a1a18" stroke-width="0.6"/>
<circle cx="484.82" cy="160.34" r="1.2" fill="#E8685F" stroke="#4a1a18" stroke-width="0.6"/>
<circle cx="481.65" cy="183.16" r="1.2" fill="#E8685F" stroke="#4a1a18" stroke-width="0.6"/>
<circle cx="484.18" cy="182.76" r="1.2" fill="#E8685F" stroke="#4a1a18" stroke-width="0.6"/>
<circle cx="483.88" cy="165.14" r="1.2" fill="#E8685F" stroke="#4a1a18" stroke-width="0.6"/>
<circle cx="486.11" cy="152.49" r="1.2" fill="#E8685F" stroke="#4a1a18" stroke-width="0.6"/>
<circle cx="482.56" cy="171.15" r="1.2" fill="#E8685F" stroke="#4a1a18" stroke-width="0.6"/>
<circle cx="484.09" cy="163.06" r="1.2" fill="#E8685F" stroke="#4a1a18" stroke-width="0.6"/>
<circle cx="484.15" cy="175.37" r="1.2" fill="#E8685F" stroke="#4a1a18" stroke-width="0.6"/>
<circle cx="485.83" cy="154.86" r="1.2" fill="#E8685F" stroke="#4a1a18" stroke-width="0.6"/>
<circle cx="483.64" cy="169.30" r="1.2" fill="#E8685F" stroke="#4a1a18" stroke-width="0.6"/>
<circle cx="487.26" cy="153.81" r="1.2" fill="#E8685F" stroke="#4a1a18" stroke-width="0.6"/>
<circle cx="488.31" cy="179.97" r="1.2" fill="#E8685F" stroke="#4a1a18" stroke-width="0.6"/>
<circle cx="482.58" cy="154.11" r="1.2" fill="#E8685F" stroke="#4a1a18" stroke-width="0.6"/>
<circle cx="485.52" cy="141.80" r="1.2" fill="#E8685F" stroke="#4a1a18" stroke-width="0.6"/>
<circle cx="485.78" cy="190.30" r="1.2" fill="#E8685F" stroke="#4a1a18" stroke-width="0.6"/>
<circle cx="485.50" cy="192.30" r="1.2" fill="#E8685F" stroke="#4a1a18" stroke-width="0.6"/>
<circle cx="486.50" cy="205.80" r="1.2" fill="#E8685F" stroke="#4a1a18" stroke-width="0.6"/>
<circle cx="488.00" cy="207.00" r="1.2" fill="#E8685F" stroke="#4a1a18" stroke-width="0.6"/>
<circle cx="485.00" cy="212.00" r="1.2" fill="#E8685F" stroke="#4a1a18" stroke-width="0.6"/>
<circle cx="516.73" cy="188.43" r="1.2" fill="#1BA5B2" stroke="#0a2e33" stroke-width="0.6"/>
<circle cx="518.22" cy="168.73" r="1.2" fill="#1BA5B2" stroke="#0a2e33" stroke-width="0.6"/>
<circle cx="520.30" cy="167.04" r="1.2" fill="#1BA5B2" stroke="#0a2e33" stroke-width="0.6"/>
<circle cx="517.10" cy="160.01" r="1.2" fill="#1BA5B2" stroke="#0a2e33" stroke-width="0.6"/>
<circle cx="518.01" cy="163.74" r="1.2" fill="#1BA5B2" stroke="#0a2e33" stroke-width="0.6"/>
<circle cx="514.92" cy="155.76" r="1.2" fill="#1BA5B2" stroke="#0a2e33" stroke-width="0.6"/>
<circle cx="518.91" cy="162.51" r="1.2" fill="#1BA5B2" stroke="#0a2e33" stroke-width="0.6"/>
<circle cx="519.66" cy="158.41" r="1.2" fill="#1BA5B2" stroke="#0a2e33" stroke-width="0.6"/>
<circle cx="516.64" cy="158.83" r="1.2" fill="#1BA5B2" stroke="#0a2e33" stroke-width="0.6"/>
<circle cx="519.76" cy="162.03" r="1.2" fill="#1BA5B2" stroke="#0a2e33" stroke-width="0.6"/>
<circle cx="519.89" cy="192.31" r="1.2" fill="#1BA5B2" stroke="#0a2e33" stroke-width="0.6"/>
<circle cx="518.24" cy="165.21" r="1.2" fill="#1BA5B2" stroke="#0a2e33" stroke-width="0.6"/>
<circle cx="521.50" cy="165.91" r="1.2" fill="#1BA5B2" stroke="#0a2e33" stroke-width="0.6"/>
<circle cx="515.95" cy="199.99" r="1.2" fill="#1BA5B2" stroke="#0a2e33" stroke-width="0.6"/>
<circle cx="517.82" cy="170.53" r="1.2" fill="#1BA5B2" stroke="#0a2e33" stroke-width="0.6"/>
<circle cx="518.39" cy="183.95" r="1.2" fill="#1BA5B2" stroke="#0a2e33" stroke-width="0.6"/>
<circle cx="516.29" cy="162.41" r="1.2" fill="#1BA5B2" stroke="#0a2e33" stroke-width="0.6"/>
<circle cx="520.54" cy="161.79" r="1.2" fill="#1BA5B2" stroke="#0a2e33" stroke-width="0.6"/>
<circle cx="517.55" cy="162.33" r="1.2" fill="#1BA5B2" stroke="#0a2e33" stroke-width="0.6"/>
<circle cx="515.06" cy="164.46" r="1.2" fill="#1BA5B2" stroke="#0a2e33" stroke-width="0.6"/>
<circle cx="518.68" cy="173.04" r="1.2" fill="#1BA5B2" stroke="#0a2e33" stroke-width="0.6"/>
<circle cx="520.84" cy="201.83" r="1.2" fill="#1BA5B2" stroke="#0a2e33" stroke-width="0.6"/>
<circle cx="518.75" cy="198.51" r="1.2" fill="#1BA5B2" stroke="#0a2e33" stroke-width="0.6"/>
<circle cx="517.28" cy="159.03" r="1.2" fill="#1BA5B2" stroke="#0a2e33" stroke-width="0.6"/>
<circle cx="517.25" cy="159.81" r="1.2" fill="#1BA5B2" stroke="#0a2e33" stroke-width="0.6"/>
<circle cx="518.35" cy="171.85" r="1.2" fill="#1BA5B2" stroke="#0a2e33" stroke-width="0.6"/>
<circle cx="518.13" cy="158.66" r="1.2" fill="#1BA5B2" stroke="#0a2e33" stroke-width="0.6"/>
<circle cx="520.27" cy="161.49" r="1.2" fill="#1BA5B2" stroke="#0a2e33" stroke-width="0.6"/>
<circle cx="515.59" cy="159.42" r="1.2" fill="#1BA5B2" stroke="#0a2e33" stroke-width="0.6"/>
<circle cx="515.53" cy="177.48" r="1.2" fill="#1BA5B2" stroke="#0a2e33" stroke-width="0.6"/>
<circle cx="513.99" cy="201.07" r="1.2" fill="#1BA5B2" stroke="#0a2e33" stroke-width="0.6"/>
<circle cx="514.43" cy="158.06" r="1.2" fill="#1BA5B2" stroke="#0a2e33" stroke-width="0.6"/>
<circle cx="516.90" cy="168.13" r="1.2" fill="#1BA5B2" stroke="#0a2e33" stroke-width="0.6"/>
<circle cx="517.60" cy="172.00" r="1.2" fill="#1BA5B2" stroke="#0a2e33" stroke-width="0.6"/>
<circle cx="518.54" cy="160.63" r="1.2" fill="#1BA5B2" stroke="#0a2e33" stroke-width="0.6"/>
<circle cx="515.27" cy="161.41" r="1.2" fill="#1BA5B2" stroke="#0a2e33" stroke-width="0.6"/>
<circle cx="517.62" cy="178.35" r="1.2" fill="#1BA5B2" stroke="#0a2e33" stroke-width="0.6"/>
<circle cx="515.11" cy="159.09" r="1.2" fill="#1BA5B2" stroke="#0a2e33" stroke-width="0.6"/>
<circle cx="517.99" cy="178.11" r="1.2" fill="#1BA5B2" stroke="#0a2e33" stroke-width="0.6"/>
<circle cx="518.23" cy="163.91" r="1.2" fill="#1BA5B2" stroke="#0a2e33" stroke-width="0.6"/>
<circle cx="517.32" cy="175.94" r="1.2" fill="#1BA5B2" stroke="#0a2e33" stroke-width="0.6"/>
<circle cx="515.69" cy="157.43" r="1.2" fill="#1BA5B2" stroke="#0a2e33" stroke-width="0.6"/>
<circle cx="513.50" cy="169.03" r="1.2" fill="#1BA5B2" stroke="#0a2e33" stroke-width="0.6"/>
<circle cx="517.90" cy="174.34" r="1.2" fill="#1BA5B2" stroke="#0a2e33" stroke-width="0.6"/>
<circle cx="517.94" cy="146.70" r="1.2" fill="#1BA5B2" stroke="#0a2e33" stroke-width="0.6"/>
<circle cx="517.75" cy="209.50" r="1.2" fill="#1BA5B2" stroke="#0a2e33" stroke-width="0.6"/>
<circle cx="515.50" cy="218.10" r="1.2" fill="#1BA5B2" stroke="#0a2e33" stroke-width="0.6"/>
<circle cx="595.45" cy="185.56" r="1.2" fill="#E8685F" stroke="#4a1a18" stroke-width="0.6"/>
<circle cx="592.53" cy="177.90" r="1.2" fill="#E8685F" stroke="#4a1a18" stroke-width="0.6"/>
<circle cx="595.23" cy="160.10" r="1.2" fill="#E8685F" stroke="#4a1a18" stroke-width="0.6"/>
<circle cx="596.48" cy="179.47" r="1.2" fill="#E8685F" stroke="#4a1a18" stroke-width="0.6"/>
<circle cx="594.35" cy="228.41" r="1.2" fill="#E8685F" stroke="#4a1a18" stroke-width="0.6"/>
<circle cx="591.75" cy="198.54" r="1.2" fill="#E8685F" stroke="#4a1a18" stroke-width="0.6"/>
<circle cx="595.54" cy="218.16" r="1.2" fill="#E8685F" stroke="#4a1a18" stroke-width="0.6"/>
<circle cx="594.98" cy="174.78" r="1.2" fill="#E8685F" stroke="#4a1a18" stroke-width="0.6"/>
<circle cx="598.16" cy="217.86" r="1.2" fill="#E8685F" stroke="#4a1a18" stroke-width="0.6"/>
<circle cx="597.55" cy="164.84" r="1.2" fill="#E8685F" stroke="#4a1a18" stroke-width="0.6"/>
<circle cx="594.18" cy="157.26" r="1.2" fill="#E8685F" stroke="#4a1a18" stroke-width="0.6"/>
<circle cx="598.04" cy="154.34" r="1.2" fill="#E8685F" stroke="#4a1a18" stroke-width="0.6"/>
<circle cx="594.52" cy="218.05" r="1.2" fill="#E8685F" stroke="#4a1a18" stroke-width="0.6"/>
<circle cx="593.77" cy="231.31" r="1.2" fill="#E8685F" stroke="#4a1a18" stroke-width="0.6"/>
<circle cx="593.96" cy="210.78" r="1.2" fill="#E8685F" stroke="#4a1a18" stroke-width="0.6"/>
<circle cx="594.70" cy="196.31" r="1.2" fill="#E8685F" stroke="#4a1a18" stroke-width="0.6"/>
<circle cx="593.93" cy="226.17" r="1.2" fill="#E8685F" stroke="#4a1a18" stroke-width="0.6"/>
<circle cx="596.40" cy="147.70" r="1.2" fill="#E8685F" stroke="#4a1a18" stroke-width="0.6"/>
<circle cx="591.75" cy="202.21" r="1.2" fill="#E8685F" stroke="#4a1a18" stroke-width="0.6"/>
<circle cx="594.39" cy="234.55" r="1.2" fill="#E8685F" stroke="#4a1a18" stroke-width="0.6"/>
<circle cx="595.19" cy="176.85" r="1.2" fill="#E8685F" stroke="#4a1a18" stroke-width="0.6"/>
<circle cx="592.97" cy="177.03" r="1.2" fill="#E8685F" stroke="#4a1a18" stroke-width="0.6"/>
<circle cx="592.31" cy="162.45" r="1.2" fill="#E8685F" stroke="#4a1a18" stroke-width="0.6"/>
<circle cx="596.67" cy="151.92" r="1.2" fill="#E8685F" stroke="#4a1a18" stroke-width="0.6"/>
<circle cx="593.44" cy="228.92" r="1.2" fill="#E8685F" stroke="#4a1a18" stroke-width="0.6"/>
<circle cx="592.00" cy="159.15" r="1.2" fill="#E8685F" stroke="#4a1a18" stroke-width="0.6"/>
<circle cx="593.30" cy="229.29" r="1.2" fill="#E8685F" stroke="#4a1a18" stroke-width="0.6"/>
<circle cx="594.94" cy="170.52" r="1.2" fill="#E8685F" stroke="#4a1a18" stroke-width="0.6"/>
<circle cx="594.72" cy="145.73" r="1.2" fill="#E8685F" stroke="#4a1a18" stroke-width="0.6"/>
<circle cx="599.32" cy="164.27" r="1.2" fill="#E8685F" stroke="#4a1a18" stroke-width="0.6"/>
<circle cx="599.18" cy="166.86" r="1.2" fill="#E8685F" stroke="#4a1a18" stroke-width="0.6"/>
<circle cx="595.48" cy="145.99" r="1.2" fill="#E8685F" stroke="#4a1a18" stroke-width="0.6"/>
<circle cx="594.36" cy="195.37" r="1.2" fill="#E8685F" stroke="#4a1a18" stroke-width="0.6"/>
<circle cx="594.90" cy="165.57" r="1.2" fill="#E8685F" stroke="#4a1a18" stroke-width="0.6"/>
<circle cx="592.11" cy="191.48" r="1.2" fill="#E8685F" stroke="#4a1a18" stroke-width="0.6"/>
<circle cx="591.75" cy="215.04" r="1.2" fill="#E8685F" stroke="#4a1a18" stroke-width="0.6"/>
<circle cx="596.83" cy="187.59" r="1.2" fill="#E8685F" stroke="#4a1a18" stroke-width="0.6"/>
<circle cx="598.49" cy="188.73" r="1.2" fill="#E8685F" stroke="#4a1a18" stroke-width="0.6"/>
<circle cx="596.00" cy="226.11" r="1.2" fill="#E8685F" stroke="#4a1a18" stroke-width="0.6"/>
<circle cx="597.65" cy="182.94" r="1.2" fill="#E8685F" stroke="#4a1a18" stroke-width="0.6"/>
<circle cx="599.01" cy="169.68" r="1.2" fill="#E8685F" stroke="#4a1a18" stroke-width="0.6"/>
<circle cx="593.10" cy="179.88" r="1.2" fill="#E8685F" stroke="#4a1a18" stroke-width="0.6"/>
<circle cx="596.82" cy="165.89" r="1.2" fill="#E8685F" stroke="#4a1a18" stroke-width="0.6"/>
<circle cx="594.39" cy="181.27" r="1.2" fill="#E8685F" stroke="#4a1a18" stroke-width="0.6"/>
<circle cx="594.31" cy="184.07" r="1.2" fill="#E8685F" stroke="#4a1a18" stroke-width="0.6"/>
<circle cx="594.31" cy="234.52" r="1.2" fill="#E8685F" stroke="#4a1a18" stroke-width="0.6"/>
<circle cx="594.87" cy="141.60" r="1.2" fill="#E8685F" stroke="#4a1a18" stroke-width="0.6"/>
<circle cx="596.70" cy="239.50" r="1.2" fill="#E8685F" stroke="#4a1a18" stroke-width="0.6"/>
<circle cx="626.46" cy="204.73" r="1.2" fill="#1BA5B2" stroke="#0a2e33" stroke-width="0.6"/>
<circle cx="630.65" cy="174.41" r="1.2" fill="#1BA5B2" stroke="#0a2e33" stroke-width="0.6"/>
<circle cx="626.59" cy="187.97" r="1.2" fill="#1BA5B2" stroke="#0a2e33" stroke-width="0.6"/>
<circle cx="625.04" cy="176.98" r="1.2" fill="#1BA5B2" stroke="#0a2e33" stroke-width="0.6"/>
<circle cx="629.12" cy="206.94" r="1.2" fill="#1BA5B2" stroke="#0a2e33" stroke-width="0.6"/>
<circle cx="628.58" cy="212.46" r="1.2" fill="#1BA5B2" stroke="#0a2e33" stroke-width="0.6"/>
<circle cx="627.12" cy="174.24" r="1.2" fill="#1BA5B2" stroke="#0a2e33" stroke-width="0.6"/>
<circle cx="630.57" cy="229.19" r="1.2" fill="#1BA5B2" stroke="#0a2e33" stroke-width="0.6"/>
<circle cx="628.04" cy="228.38" r="1.2" fill="#1BA5B2" stroke="#0a2e33" stroke-width="0.6"/>
<circle cx="629.15" cy="186.85" r="1.2" fill="#1BA5B2" stroke="#0a2e33" stroke-width="0.6"/>
<circle cx="624.33" cy="207.51" r="1.2" fill="#1BA5B2" stroke="#0a2e33" stroke-width="0.6"/>
<circle cx="623.90" cy="169.67" r="1.2" fill="#1BA5B2" stroke="#0a2e33" stroke-width="0.6"/>
<circle cx="625.98" cy="166.04" r="1.2" fill="#1BA5B2" stroke="#0a2e33" stroke-width="0.6"/>
<circle cx="624.86" cy="211.80" r="1.2" fill="#1BA5B2" stroke="#0a2e33" stroke-width="0.6"/>
<circle cx="625.32" cy="170.78" r="1.2" fill="#1BA5B2" stroke="#0a2e33" stroke-width="0.6"/>
<circle cx="627.65" cy="175.74" r="1.2" fill="#1BA5B2" stroke="#0a2e33" stroke-width="0.6"/>
<circle cx="625.06" cy="166.72" r="1.2" fill="#1BA5B2" stroke="#0a2e33" stroke-width="0.6"/>
<circle cx="623.55" cy="211.79" r="1.2" fill="#1BA5B2" stroke="#0a2e33" stroke-width="0.6"/>
<circle cx="625.16" cy="217.19" r="1.2" fill="#1BA5B2" stroke="#0a2e33" stroke-width="0.6"/>
<circle cx="627.56" cy="174.26" r="1.2" fill="#1BA5B2" stroke="#0a2e33" stroke-width="0.6"/>
<circle cx="628.25" cy="165.41" r="1.2" fill="#1BA5B2" stroke="#0a2e33" stroke-width="0.6"/>
<circle cx="625.22" cy="174.04" r="1.2" fill="#1BA5B2" stroke="#0a2e33" stroke-width="0.6"/>
<circle cx="628.42" cy="151.12" r="1.2" fill="#1BA5B2" stroke="#0a2e33" stroke-width="0.6"/>
<circle cx="629.21" cy="213.96" r="1.2" fill="#1BA5B2" stroke="#0a2e33" stroke-width="0.6"/>
<circle cx="628.76" cy="211.00" r="1.2" fill="#1BA5B2" stroke="#0a2e33" stroke-width="0.6"/>
<circle cx="626.72" cy="189.14" r="1.2" fill="#1BA5B2" stroke="#0a2e33" stroke-width="0.6"/>
<circle cx="627.05" cy="168.80" r="1.2" fill="#1BA5B2" stroke="#0a2e33" stroke-width="0.6"/>
<circle cx="625.75" cy="216.32" r="1.2" fill="#1BA5B2" stroke="#0a2e33" stroke-width="0.6"/>
<circle cx="626.49" cy="214.98" r="1.2" fill="#1BA5B2" stroke="#0a2e33" stroke-width="0.6"/>
<circle cx="629.15" cy="224.63" r="1.2" fill="#1BA5B2" stroke="#0a2e33" stroke-width="0.6"/>
<circle cx="623.10" cy="169.24" r="1.2" fill="#1BA5B2" stroke="#0a2e33" stroke-width="0.6"/>
<circle cx="627.63" cy="156.23" r="1.2" fill="#1BA5B2" stroke="#0a2e33" stroke-width="0.6"/>
<circle cx="627.41" cy="206.12" r="1.2" fill="#1BA5B2" stroke="#0a2e33" stroke-width="0.6"/>
<circle cx="627.68" cy="177.52" r="1.2" fill="#1BA5B2" stroke="#0a2e33" stroke-width="0.6"/>
<circle cx="626.73" cy="190.84" r="1.2" fill="#1BA5B2" stroke="#0a2e33" stroke-width="0.6"/>
<circle cx="626.99" cy="168.46" r="1.2" fill="#1BA5B2" stroke="#0a2e33" stroke-width="0.6"/>
<circle cx="629.55" cy="208.89" r="1.2" fill="#1BA5B2" stroke="#0a2e33" stroke-width="0.6"/>
<circle cx="626.04" cy="190.70" r="1.2" fill="#1BA5B2" stroke="#0a2e33" stroke-width="0.6"/>
<circle cx="627.46" cy="233.63" r="1.2" fill="#1BA5B2" stroke="#0a2e33" stroke-width="0.6"/>
<circle cx="627.03" cy="150.76" r="1.2" fill="#1BA5B2" stroke="#0a2e33" stroke-width="0.6"/>
<circle cx="628.87" cy="229.89" r="1.2" fill="#1BA5B2" stroke="#0a2e33" stroke-width="0.6"/>
<circle cx="627.78" cy="210.37" r="1.2" fill="#1BA5B2" stroke="#0a2e33" stroke-width="0.6"/>
<circle cx="624.19" cy="209.83" r="1.2" fill="#1BA5B2" stroke="#0a2e33" stroke-width="0.6"/>
<circle cx="627.24" cy="155.19" r="1.2" fill="#1BA5B2" stroke="#0a2e33" stroke-width="0.6"/>
<circle cx="627.45" cy="145.30" r="1.2" fill="#1BA5B2" stroke="#0a2e33" stroke-width="0.6"/>
<circle cx="626.70" cy="234.00" r="1.2" fill="#1BA5B2" stroke="#0a2e33" stroke-width="0.6"/>
<circle cx="669.60" cy="164.10" r="1.2" fill="#E8685F" stroke="#4a1a18" stroke-width="0.6"/>
<circle cx="673.56" cy="135.73" r="1.2" fill="#E8685F" stroke="#4a1a18" stroke-width="0.6"/>
<circle cx="674.58" cy="146.50" r="1.2" fill="#E8685F" stroke="#4a1a18" stroke-width="0.6"/>
<circle cx="673.47" cy="131.23" r="1.2" fill="#E8685F" stroke="#4a1a18" stroke-width="0.6"/>
<circle cx="673.33" cy="155.04" r="1.2" fill="#E8685F" stroke="#4a1a18" stroke-width="0.6"/>
<circle cx="674.41" cy="144.59" r="1.2" fill="#E8685F" stroke="#4a1a18" stroke-width="0.6"/>
<circle cx="677.60" cy="195.09" r="1.2" fill="#E8685F" stroke="#4a1a18" stroke-width="0.6"/>
<circle cx="677.18" cy="138.02" r="1.2" fill="#E8685F" stroke="#4a1a18" stroke-width="0.6"/>
<circle cx="676.10" cy="182.02" r="1.2" fill="#E8685F" stroke="#4a1a18" stroke-width="0.6"/>
<circle cx="674.56" cy="147.61" r="1.2" fill="#E8685F" stroke="#4a1a18" stroke-width="0.6"/>
<circle cx="671.66" cy="154.20" r="1.2" fill="#E8685F" stroke="#4a1a18" stroke-width="0.6"/>
<circle cx="673.05" cy="127.78" r="1.2" fill="#E8685F" stroke="#4a1a18" stroke-width="0.6"/>
<circle cx="671.25" cy="143.93" r="1.2" fill="#E8685F" stroke="#4a1a18" stroke-width="0.6"/>
<circle cx="674.44" cy="148.08" r="1.2" fill="#E8685F" stroke="#4a1a18" stroke-width="0.6"/>
<circle cx="674.85" cy="172.23" r="1.2" fill="#E8685F" stroke="#4a1a18" stroke-width="0.6"/>
<circle cx="671.90" cy="138.74" r="1.2" fill="#E8685F" stroke="#4a1a18" stroke-width="0.6"/>
<circle cx="677.34" cy="145.16" r="1.2" fill="#E8685F" stroke="#4a1a18" stroke-width="0.6"/>
<circle cx="672.96" cy="144.22" r="1.2" fill="#E8685F" stroke="#4a1a18" stroke-width="0.6"/>
<circle cx="672.46" cy="147.26" r="1.2" fill="#E8685F" stroke="#4a1a18" stroke-width="0.6"/>
<circle cx="669.76" cy="146.71" r="1.2" fill="#E8685F" stroke="#4a1a18" stroke-width="0.6"/>
<circle cx="677.60" cy="197.24" r="1.2" fill="#E8685F" stroke="#4a1a18" stroke-width="0.6"/>
<circle cx="674.12" cy="135.01" r="1.2" fill="#E8685F" stroke="#4a1a18" stroke-width="0.6"/>
<circle cx="673.20" cy="156.63" r="1.2" fill="#E8685F" stroke="#4a1a18" stroke-width="0.6"/>
<circle cx="674.21" cy="168.01" r="1.2" fill="#E8685F" stroke="#4a1a18" stroke-width="0.6"/>
<circle cx="671.98" cy="122.56" r="1.2" fill="#E8685F" stroke="#4a1a18" stroke-width="0.6"/>
<circle cx="674.40" cy="178.02" r="1.2" fill="#E8685F" stroke="#4a1a18" stroke-width="0.6"/>
<circle cx="675.47" cy="169.88" r="1.2" fill="#E8685F" stroke="#4a1a18" stroke-width="0.6"/>
<circle cx="674.99" cy="154.12" r="1.2" fill="#E8685F" stroke="#4a1a18" stroke-width="0.6"/>
<circle cx="676.55" cy="155.07" r="1.2" fill="#E8685F" stroke="#4a1a18" stroke-width="0.6"/>
<circle cx="671.87" cy="129.22" r="1.2" fill="#E8685F" stroke="#4a1a18" stroke-width="0.6"/>
<circle cx="672.20" cy="146.74" r="1.2" fill="#E8685F" stroke="#4a1a18" stroke-width="0.6"/>
<circle cx="674.55" cy="163.29" r="1.2" fill="#E8685F" stroke="#4a1a18" stroke-width="0.6"/>
<circle cx="671.27" cy="128.24" r="1.2" fill="#E8685F" stroke="#4a1a18" stroke-width="0.6"/>
<circle cx="673.49" cy="158.47" r="1.2" fill="#E8685F" stroke="#4a1a18" stroke-width="0.6"/>
<circle cx="672.97" cy="172.25" r="1.2" fill="#E8685F" stroke="#4a1a18" stroke-width="0.6"/>
<circle cx="673.27" cy="193.71" r="1.2" fill="#E8685F" stroke="#4a1a18" stroke-width="0.6"/>
<circle cx="673.61" cy="176.29" r="1.2" fill="#E8685F" stroke="#4a1a18" stroke-width="0.6"/>
<circle cx="675.00" cy="170.74" r="1.2" fill="#E8685F" stroke="#4a1a18" stroke-width="0.6"/>
<circle cx="676.90" cy="146.46" r="1.2" fill="#E8685F" stroke="#4a1a18" stroke-width="0.6"/>
<circle cx="675.90" cy="149.27" r="1.2" fill="#E8685F" stroke="#4a1a18" stroke-width="0.6"/>
<circle cx="673.67" cy="148.75" r="1.2" fill="#E8685F" stroke="#4a1a18" stroke-width="0.6"/>
<circle cx="675.15" cy="141.99" r="1.2" fill="#E8685F" stroke="#4a1a18" stroke-width="0.6"/>
<circle cx="670.12" cy="150.02" r="1.2" fill="#E8685F" stroke="#4a1a18" stroke-width="0.6"/>
<circle cx="677.18" cy="150.28" r="1.2" fill="#E8685F" stroke="#4a1a18" stroke-width="0.6"/>
<circle cx="674.51" cy="121.10" r="1.2" fill="#E8685F" stroke="#4a1a18" stroke-width="0.6"/>
<circle cx="673.59" cy="201.90" r="1.2" fill="#E8685F" stroke="#4a1a18" stroke-width="0.6"/>
<circle cx="706.35" cy="159.42" r="1.2" fill="#1BA5B2" stroke="#0a2e33" stroke-width="0.6"/>
<circle cx="706.22" cy="154.02" r="1.2" fill="#1BA5B2" stroke="#0a2e33" stroke-width="0.6"/>
<circle cx="704.63" cy="135.27" r="1.2" fill="#1BA5B2" stroke="#0a2e33" stroke-width="0.6"/>
<circle cx="705.74" cy="152.85" r="1.2" fill="#1BA5B2" stroke="#0a2e33" stroke-width="0.6"/>
<circle cx="705.06" cy="155.87" r="1.2" fill="#1BA5B2" stroke="#0a2e33" stroke-width="0.6"/>
<circle cx="702.85" cy="144.32" r="1.2" fill="#1BA5B2" stroke="#0a2e33" stroke-width="0.6"/>
<circle cx="703.83" cy="154.89" r="1.2" fill="#1BA5B2" stroke="#0a2e33" stroke-width="0.6"/>
<circle cx="705.83" cy="176.15" r="1.2" fill="#1BA5B2" stroke="#0a2e33" stroke-width="0.6"/>
<circle cx="705.17" cy="151.20" r="1.2" fill="#1BA5B2" stroke="#0a2e33" stroke-width="0.6"/>
<circle cx="704.04" cy="149.23" r="1.2" fill="#1BA5B2" stroke="#0a2e33" stroke-width="0.6"/>
<circle cx="705.48" cy="162.93" r="1.2" fill="#1BA5B2" stroke="#0a2e33" stroke-width="0.6"/>
<circle cx="704.88" cy="143.99" r="1.2" fill="#1BA5B2" stroke="#0a2e33" stroke-width="0.6"/>
<circle cx="703.76" cy="183.95" r="1.2" fill="#1BA5B2" stroke="#0a2e33" stroke-width="0.6"/>
<circle cx="706.14" cy="150.79" r="1.2" fill="#1BA5B2" stroke="#0a2e33" stroke-width="0.6"/>
<circle cx="702.94" cy="153.49" r="1.2" fill="#1BA5B2" stroke="#0a2e33" stroke-width="0.6"/>
<circle cx="705.00" cy="167.22" r="1.2" fill="#1BA5B2" stroke="#0a2e33" stroke-width="0.6"/>
<circle cx="706.61" cy="153.70" r="1.2" fill="#1BA5B2" stroke="#0a2e33" stroke-width="0.6"/>
<circle cx="706.36" cy="182.98" r="1.2" fill="#1BA5B2" stroke="#0a2e33" stroke-width="0.6"/>
<circle cx="701.52" cy="143.26" r="1.2" fill="#1BA5B2" stroke="#0a2e33" stroke-width="0.6"/>
<circle cx="704.91" cy="183.82" r="1.2" fill="#1BA5B2" stroke="#0a2e33" stroke-width="0.6"/>
<circle cx="706.89" cy="157.66" r="1.2" fill="#1BA5B2" stroke="#0a2e33" stroke-width="0.6"/>
<circle cx="702.84" cy="154.53" r="1.2" fill="#1BA5B2" stroke="#0a2e33" stroke-width="0.6"/>
<circle cx="705.82" cy="136.37" r="1.2" fill="#1BA5B2" stroke="#0a2e33" stroke-width="0.6"/>
<circle cx="707.38" cy="178.07" r="1.2" fill="#1BA5B2" stroke="#0a2e33" stroke-width="0.6"/>
<circle cx="703.86" cy="181.90" r="1.2" fill="#1BA5B2" stroke="#0a2e33" stroke-width="0.6"/>
<circle cx="703.96" cy="164.44" r="1.2" fill="#1BA5B2" stroke="#0a2e33" stroke-width="0.6"/>
<circle cx="703.74" cy="156.70" r="1.2" fill="#1BA5B2" stroke="#0a2e33" stroke-width="0.6"/>
<circle cx="703.86" cy="163.60" r="1.2" fill="#1BA5B2" stroke="#0a2e33" stroke-width="0.6"/>
<circle cx="703.90" cy="158.40" r="1.2" fill="#1BA5B2" stroke="#0a2e33" stroke-width="0.6"/>
<circle cx="703.96" cy="166.47" r="1.2" fill="#1BA5B2" stroke="#0a2e33" stroke-width="0.6"/>
<circle cx="707.48" cy="144.26" r="1.2" fill="#1BA5B2" stroke="#0a2e33" stroke-width="0.6"/>
<circle cx="704.65" cy="170.64" r="1.2" fill="#1BA5B2" stroke="#0a2e33" stroke-width="0.6"/>
<circle cx="707.02" cy="155.37" r="1.2" fill="#1BA5B2" stroke="#0a2e33" stroke-width="0.6"/>
<circle cx="704.37" cy="136.14" r="1.2" fill="#1BA5B2" stroke="#0a2e33" stroke-width="0.6"/>
<circle cx="706.77" cy="149.87" r="1.2" fill="#1BA5B2" stroke="#0a2e33" stroke-width="0.6"/>
<circle cx="706.29" cy="143.65" r="1.2" fill="#1BA5B2" stroke="#0a2e33" stroke-width="0.6"/>
<circle cx="702.70" cy="160.69" r="1.2" fill="#1BA5B2" stroke="#0a2e33" stroke-width="0.6"/>
<circle cx="702.58" cy="145.63" r="1.2" fill="#1BA5B2" stroke="#0a2e33" stroke-width="0.6"/>
<circle cx="705.48" cy="158.77" r="1.2" fill="#1BA5B2" stroke="#0a2e33" stroke-width="0.6"/>
<circle cx="705.30" cy="149.86" r="1.2" fill="#1BA5B2" stroke="#0a2e33" stroke-width="0.6"/>
<circle cx="707.14" cy="151.65" r="1.2" fill="#1BA5B2" stroke="#0a2e33" stroke-width="0.6"/>
<circle cx="705.81" cy="140.81" r="1.2" fill="#1BA5B2" stroke="#0a2e33" stroke-width="0.6"/>
<circle cx="703.83" cy="159.01" r="1.2" fill="#1BA5B2" stroke="#0a2e33" stroke-width="0.6"/>
<circle cx="703.98" cy="153.74" r="1.2" fill="#1BA5B2" stroke="#0a2e33" stroke-width="0.6"/>
<circle cx="704.22" cy="127.80" r="1.2" fill="#1BA5B2" stroke="#0a2e33" stroke-width="0.6"/>
<circle cx="704.03" cy="186.50" r="1.2" fill="#1BA5B2" stroke="#0a2e33" stroke-width="0.6"/>
<circle cx="703.00" cy="195.30" r="1.2" fill="#1BA5B2" stroke="#0a2e33" stroke-width="0.6"/>
<circle cx="703.00" cy="222.50" r="1.2" fill="#1BA5B2" stroke="#0a2e33" stroke-width="0.6"/>
<circle cx="705.50" cy="225.00" r="1.2" fill="#1BA5B2" stroke="#0a2e33" stroke-width="0.6"/>
<circle cx="702.00" cy="230.00" r="1.2" fill="#1BA5B2" stroke="#0a2e33" stroke-width="0.6"/>
<circle cx="704.00" cy="240.50" r="1.2" fill="#1BA5B2" stroke="#0a2e33" stroke-width="0.6"/>
<circle cx="754.64" cy="179.97" r="1.2" fill="#E8685F" stroke="#4a1a18" stroke-width="0.6"/>
<circle cx="748.62" cy="149.55" r="1.2" fill="#E8685F" stroke="#4a1a18" stroke-width="0.6"/>
<circle cx="752.64" cy="146.58" r="1.2" fill="#E8685F" stroke="#4a1a18" stroke-width="0.6"/>
<circle cx="752.47" cy="188.63" r="1.2" fill="#E8685F" stroke="#4a1a18" stroke-width="0.6"/>
<circle cx="752.92" cy="162.07" r="1.2" fill="#E8685F" stroke="#4a1a18" stroke-width="0.6"/>
<circle cx="752.49" cy="173.27" r="1.2" fill="#E8685F" stroke="#4a1a18" stroke-width="0.6"/>
<circle cx="749.43" cy="172.18" r="1.2" fill="#E8685F" stroke="#4a1a18" stroke-width="0.6"/>
<circle cx="752.15" cy="180.79" r="1.2" fill="#E8685F" stroke="#4a1a18" stroke-width="0.6"/>
<circle cx="748.59" cy="175.29" r="1.2" fill="#E8685F" stroke="#4a1a18" stroke-width="0.6"/>
<circle cx="751.75" cy="174.80" r="1.2" fill="#E8685F" stroke="#4a1a18" stroke-width="0.6"/>
<circle cx="748.99" cy="164.31" r="1.2" fill="#E8685F" stroke="#4a1a18" stroke-width="0.6"/>
<circle cx="752.31" cy="168.86" r="1.2" fill="#E8685F" stroke="#4a1a18" stroke-width="0.6"/>
<circle cx="747.73" cy="168.47" r="1.2" fill="#E8685F" stroke="#4a1a18" stroke-width="0.6"/>
<circle cx="751.23" cy="160.37" r="1.2" fill="#E8685F" stroke="#4a1a18" stroke-width="0.6"/>
<circle cx="749.94" cy="161.13" r="1.2" fill="#E8685F" stroke="#4a1a18" stroke-width="0.6"/>
<circle cx="752.35" cy="159.31" r="1.2" fill="#E8685F" stroke="#4a1a18" stroke-width="0.6"/>
<circle cx="747.90" cy="160.26" r="1.2" fill="#E8685F" stroke="#4a1a18" stroke-width="0.6"/>
<circle cx="753.02" cy="148.13" r="1.2" fill="#E8685F" stroke="#4a1a18" stroke-width="0.6"/>
<circle cx="753.47" cy="165.50" r="1.2" fill="#E8685F" stroke="#4a1a18" stroke-width="0.6"/>
<circle cx="753.51" cy="177.69" r="1.2" fill="#E8685F" stroke="#4a1a18" stroke-width="0.6"/>
<circle cx="748.48" cy="176.00" r="1.2" fill="#E8685F" stroke="#4a1a18" stroke-width="0.6"/>
<circle cx="752.09" cy="163.90" r="1.2" fill="#E8685F" stroke="#4a1a18" stroke-width="0.6"/>
<circle cx="751.54" cy="169.67" r="1.2" fill="#E8685F" stroke="#4a1a18" stroke-width="0.6"/>
<circle cx="747.50" cy="189.90" r="1.2" fill="#E8685F" stroke="#4a1a18" stroke-width="0.6"/>
<circle cx="749.87" cy="169.88" r="1.2" fill="#E8685F" stroke="#4a1a18" stroke-width="0.6"/>
<circle cx="749.90" cy="168.57" r="1.2" fill="#E8685F" stroke="#4a1a18" stroke-width="0.6"/>
<circle cx="753.49" cy="164.19" r="1.2" fill="#E8685F" stroke="#4a1a18" stroke-width="0.6"/>
<circle cx="753.00" cy="169.96" r="1.2" fill="#E8685F" stroke="#4a1a18" stroke-width="0.6"/>
<circle cx="752.57" cy="161.18" r="1.2" fill="#E8685F" stroke="#4a1a18" stroke-width="0.6"/>
<circle cx="753.64" cy="173.57" r="1.2" fill="#E8685F" stroke="#4a1a18" stroke-width="0.6"/>
<circle cx="751.01" cy="161.67" r="1.2" fill="#E8685F" stroke="#4a1a18" stroke-width="0.6"/>
<circle cx="748.07" cy="178.03" r="1.2" fill="#E8685F" stroke="#4a1a18" stroke-width="0.6"/>
<circle cx="750.84" cy="148.38" r="1.2" fill="#E8685F" stroke="#4a1a18" stroke-width="0.6"/>
<circle cx="750.58" cy="191.91" r="1.2" fill="#E8685F" stroke="#4a1a18" stroke-width="0.6"/>
<circle cx="751.43" cy="186.95" r="1.2" fill="#E8685F" stroke="#4a1a18" stroke-width="0.6"/>
<circle cx="753.02" cy="198.95" r="1.2" fill="#E8685F" stroke="#4a1a18" stroke-width="0.6"/>
<circle cx="750.22" cy="147.87" r="1.2" fill="#E8685F" stroke="#4a1a18" stroke-width="0.6"/>
<circle cx="751.96" cy="169.75" r="1.2" fill="#E8685F" stroke="#4a1a18" stroke-width="0.6"/>
<circle cx="752.62" cy="170.75" r="1.2" fill="#E8685F" stroke="#4a1a18" stroke-width="0.6"/>
<circle cx="751.13" cy="164.55" r="1.2" fill="#E8685F" stroke="#4a1a18" stroke-width="0.6"/>
<circle cx="751.08" cy="162.94" r="1.2" fill="#E8685F" stroke="#4a1a18" stroke-width="0.6"/>
<circle cx="753.12" cy="162.19" r="1.2" fill="#E8685F" stroke="#4a1a18" stroke-width="0.6"/>
<circle cx="751.54" cy="183.72" r="1.2" fill="#E8685F" stroke="#4a1a18" stroke-width="0.6"/>
<circle cx="749.09" cy="166.61" r="1.2" fill="#E8685F" stroke="#4a1a18" stroke-width="0.6"/>
<circle cx="751.03" cy="135.90" r="1.2" fill="#E8685F" stroke="#4a1a18" stroke-width="0.6"/>
<circle cx="751.79" cy="199.40" r="1.2" fill="#E8685F" stroke="#4a1a18" stroke-width="0.6"/>
<circle cx="751.50" cy="203.90" r="1.2" fill="#E8685F" stroke="#4a1a18" stroke-width="0.6"/>
<circle cx="752.00" cy="205.00" r="1.2" fill="#E8685F" stroke="#4a1a18" stroke-width="0.6"/>
<circle cx="751.50" cy="212.50" r="1.2" fill="#E8685F" stroke="#4a1a18" stroke-width="0.6"/>
<circle cx="751.00" cy="225.30" r="1.2" fill="#E8685F" stroke="#4a1a18" stroke-width="0.6"/>
<circle cx="783.13" cy="183.96" r="1.2" fill="#1BA5B2" stroke="#0a2e33" stroke-width="0.6"/>
<circle cx="783.90" cy="176.46" r="1.2" fill="#1BA5B2" stroke="#0a2e33" stroke-width="0.6"/>
<circle cx="783.87" cy="184.50" r="1.2" fill="#1BA5B2" stroke="#0a2e33" stroke-width="0.6"/>
<circle cx="779.60" cy="149.26" r="1.2" fill="#1BA5B2" stroke="#0a2e33" stroke-width="0.6"/>
<circle cx="782.60" cy="181.52" r="1.2" fill="#1BA5B2" stroke="#0a2e33" stroke-width="0.6"/>
<circle cx="783.32" cy="143.89" r="1.2" fill="#1BA5B2" stroke="#0a2e33" stroke-width="0.6"/>
<circle cx="781.44" cy="175.73" r="1.2" fill="#1BA5B2" stroke="#0a2e33" stroke-width="0.6"/>
<circle cx="786.43" cy="150.99" r="1.2" fill="#1BA5B2" stroke="#0a2e33" stroke-width="0.6"/>
<circle cx="785.51" cy="175.67" r="1.2" fill="#1BA5B2" stroke="#0a2e33" stroke-width="0.6"/>
<circle cx="786.86" cy="163.52" r="1.2" fill="#1BA5B2" stroke="#0a2e33" stroke-width="0.6"/>
<circle cx="784.45" cy="183.48" r="1.2" fill="#1BA5B2" stroke="#0a2e33" stroke-width="0.6"/>
<circle cx="783.10" cy="166.45" r="1.2" fill="#1BA5B2" stroke="#0a2e33" stroke-width="0.6"/>
<circle cx="783.67" cy="209.97" r="1.2" fill="#1BA5B2" stroke="#0a2e33" stroke-width="0.6"/>
<circle cx="783.75" cy="169.94" r="1.2" fill="#1BA5B2" stroke="#0a2e33" stroke-width="0.6"/>
<circle cx="781.62" cy="183.49" r="1.2" fill="#1BA5B2" stroke="#0a2e33" stroke-width="0.6"/>
<circle cx="783.18" cy="170.57" r="1.2" fill="#1BA5B2" stroke="#0a2e33" stroke-width="0.6"/>
<circle cx="784.99" cy="174.03" r="1.2" fill="#1BA5B2" stroke="#0a2e33" stroke-width="0.6"/>
<circle cx="779.75" cy="169.64" r="1.2" fill="#1BA5B2" stroke="#0a2e33" stroke-width="0.6"/>
<circle cx="783.43" cy="149.32" r="1.2" fill="#1BA5B2" stroke="#0a2e33" stroke-width="0.6"/>
<circle cx="784.65" cy="161.03" r="1.2" fill="#1BA5B2" stroke="#0a2e33" stroke-width="0.6"/>
<circle cx="782.82" cy="172.67" r="1.2" fill="#1BA5B2" stroke="#0a2e33" stroke-width="0.6"/>
<circle cx="782.53" cy="176.14" r="1.2" fill="#1BA5B2" stroke="#0a2e33" stroke-width="0.6"/>
<circle cx="783.50" cy="157.28" r="1.2" fill="#1BA5B2" stroke="#0a2e33" stroke-width="0.6"/>
<circle cx="783.66" cy="161.76" r="1.2" fill="#1BA5B2" stroke="#0a2e33" stroke-width="0.6"/>
<circle cx="784.55" cy="145.30" r="1.2" fill="#1BA5B2" stroke="#0a2e33" stroke-width="0.6"/>
<circle cx="784.76" cy="175.57" r="1.2" fill="#1BA5B2" stroke="#0a2e33" stroke-width="0.6"/>
<circle cx="785.57" cy="151.04" r="1.2" fill="#1BA5B2" stroke="#0a2e33" stroke-width="0.6"/>
<circle cx="779.71" cy="184.70" r="1.2" fill="#1BA5B2" stroke="#0a2e33" stroke-width="0.6"/>
<circle cx="784.36" cy="185.07" r="1.2" fill="#1BA5B2" stroke="#0a2e33" stroke-width="0.6"/>
<circle cx="779.67" cy="167.73" r="1.2" fill="#1BA5B2" stroke="#0a2e33" stroke-width="0.6"/>
<circle cx="786.45" cy="158.32" r="1.2" fill="#1BA5B2" stroke="#0a2e33" stroke-width="0.6"/>
<circle cx="782.14" cy="174.11" r="1.2" fill="#1BA5B2" stroke="#0a2e33" stroke-width="0.6"/>
<circle cx="783.39" cy="174.54" r="1.2" fill="#1BA5B2" stroke="#0a2e33" stroke-width="0.6"/>
<circle cx="782.14" cy="196.74" r="1.2" fill="#1BA5B2" stroke="#0a2e33" stroke-width="0.6"/>
<circle cx="784.15" cy="173.92" r="1.2" fill="#1BA5B2" stroke="#0a2e33" stroke-width="0.6"/>
<circle cx="780.73" cy="184.65" r="1.2" fill="#1BA5B2" stroke="#0a2e33" stroke-width="0.6"/>
<circle cx="782.91" cy="168.35" r="1.2" fill="#1BA5B2" stroke="#0a2e33" stroke-width="0.6"/>
<circle cx="781.61" cy="166.92" r="1.2" fill="#1BA5B2" stroke="#0a2e33" stroke-width="0.6"/>
<circle cx="782.42" cy="159.78" r="1.2" fill="#1BA5B2" stroke="#0a2e33" stroke-width="0.6"/>
<circle cx="781.89" cy="157.50" r="1.2" fill="#1BA5B2" stroke="#0a2e33" stroke-width="0.6"/>
<circle cx="785.63" cy="154.77" r="1.2" fill="#1BA5B2" stroke="#0a2e33" stroke-width="0.6"/>
<circle cx="782.90" cy="164.95" r="1.2" fill="#1BA5B2" stroke="#0a2e33" stroke-width="0.6"/>
<circle cx="783.77" cy="161.53" r="1.2" fill="#1BA5B2" stroke="#0a2e33" stroke-width="0.6"/>
<circle cx="782.71" cy="156.31" r="1.2" fill="#1BA5B2" stroke="#0a2e33" stroke-width="0.6"/>
<circle cx="783.92" cy="141.50" r="1.2" fill="#1BA5B2" stroke="#0a2e33" stroke-width="0.6"/>
<circle cx="783.65" cy="219.00" r="1.2" fill="#1BA5B2" stroke="#0a2e33" stroke-width="0.6"/>
<circle cx="781.50" cy="223.00" r="1.2" fill="#1BA5B2" stroke="#0a2e33" stroke-width="0.6"/>
<circle cx="781.00" cy="227.00" r="1.2" fill="#1BA5B2" stroke="#0a2e33" stroke-width="0.6"/>
<circle cx="705.5" cy="86.8" r="2.1" fill="#111"/>
<circle cx="702.6" cy="99.0" r="2.1" fill="#111"/>
<circle cx="704.4" cy="99.2" r="1.0" fill="#1BA5B2"/>
<polyline points="72.00,138.20 72.00,56.80 227.90,56.80 227.90,138.20" fill="none" stroke="#231F20" stroke-width="1.8" stroke-linejoin="miter"/>
<polyline points="76.00,138.20 76.00,65.90 149.80,65.90 149.80,70.20" fill="none" stroke="#231F20" stroke-width="1.8" stroke-linejoin="miter"/>
<polyline points="151.60,70.20 151.60,65.90 224.00,65.90 224.00,138.20" fill="none" stroke="#231F20" stroke-width="1.8" stroke-linejoin="miter"/>
<polyline points="47.60,142.50 47.60,138.00 104.20,138.00 104.20,142.50" fill="none" stroke="#231F20" stroke-width="1.8" stroke-linejoin="miter"/>
<polyline points="121.40,74.20 121.40,70.20 179.00,70.20 179.00,74.20" fill="none" stroke="#231F20" stroke-width="1.8" stroke-linejoin="miter"/>
<polyline points="196.20,142.50 196.20,138.00 253.00,138.00 253.00,142.50" fill="none" stroke="#231F20" stroke-width="1.8" stroke-linejoin="miter"/>
<text x="149.00" y="63.00" font-size="6.0" font-weight="bold" font-style="italic" text-anchor="middle" fill="#1e1e1e" stroke="#1e1e1e" stroke-width="0.25">P&lt;0.0001</text>
<text x="104.40" y="72.90" font-size="6.0" font-weight="bold" font-style="italic" text-anchor="middle" fill="#1e1e1e" stroke="#1e1e1e" stroke-width="0.25">P&lt;0.0001</text>
<text x="199.00" y="72.90" font-size="6.0" font-weight="bold" font-style="italic" text-anchor="middle" fill="#1e1e1e" stroke="#1e1e1e" stroke-width="0.25">P&lt;0.0001</text>
<text x="150.90" y="76.40" font-size="6.0" font-weight="bold" font-style="italic" text-anchor="middle" fill="#1e1e1e" stroke="#1e1e1e" stroke-width="0.25">P= 0.33</text>
<text x="76.60" y="144.20" font-size="6.0" font-weight="bold" font-style="italic" text-anchor="middle" fill="#1e1e1e" stroke="#1e1e1e" stroke-width="0.25">P= 0.002</text>
<text x="223.10" y="143.80" font-size="6.0" font-weight="bold" font-style="italic" text-anchor="middle" fill="#1e1e1e" stroke="#1e1e1e" stroke-width="0.25">P= 0.36</text>
<polyline points="338.70,111.00 338.70,79.40 502.90,79.40 502.90,111.00" fill="none" stroke="#231F20" stroke-width="1.8" stroke-linejoin="miter"/>
<polyline points="343.50,111.00 343.50,102.30 417.10,102.30 417.10,111.00" fill="none" stroke="#231F20" stroke-width="1.8" stroke-linejoin="miter"/>
<polyline points="420.70,111.00 420.70,100.90 498.50,100.90 498.50,111.00" fill="none" stroke="#231F20" stroke-width="1.8" stroke-linejoin="miter"/>
<polyline points="311.30,115.60 311.30,111.30 370.50,111.30 370.50,115.60" fill="none" stroke="#231F20" stroke-width="1.8" stroke-linejoin="miter"/>
<polyline points="390.40,115.60 390.40,111.30 452.70,111.30 452.70,115.60" fill="none" stroke="#231F20" stroke-width="1.8" stroke-linejoin="miter"/>
<polyline points="470.80,115.60 470.80,111.30 532.00,111.30 532.00,115.60" fill="none" stroke="#231F20" stroke-width="1.8" stroke-linejoin="miter"/>
<text x="418.80" y="87.30" font-size="6.0" font-weight="bold" font-style="italic" text-anchor="middle" fill="#1e1e1e" stroke="#1e1e1e" stroke-width="0.25">P&lt;0.0001</text>
<text x="382.00" y="109.20" font-size="6.0" font-weight="bold" font-style="italic" text-anchor="middle" fill="#1e1e1e" stroke="#1e1e1e" stroke-width="0.25">P&lt;0.0001</text>
<text x="460.30" y="107.60" font-size="6.0" font-weight="bold" font-style="italic" text-anchor="middle" fill="#1e1e1e" stroke="#1e1e1e" stroke-width="0.25">P= 0.37</text>
<text x="343.10" y="118.00" font-size="6.0" font-weight="bold" font-style="italic" text-anchor="middle" fill="#1e1e1e" stroke="#1e1e1e" stroke-width="0.25">P= 0.01</text>
<text x="418.50" y="118.60" font-size="6.0" font-weight="bold" font-style="italic" text-anchor="middle" fill="#1e1e1e" stroke="#1e1e1e" stroke-width="0.25">P= 0.66</text>
<text x="498.00" y="118.60" font-size="6.0" font-weight="bold" font-style="italic" text-anchor="middle" fill="#1e1e1e" stroke="#1e1e1e" stroke-width="0.25">P= 0.54</text>
<polyline points="607.40,79.20 607.40,57.00 770.60,57.00 770.60,79.20" fill="none" stroke="#231F20" stroke-width="1.8" stroke-linejoin="miter"/>
<polyline points="613.00,79.30 613.00,65.80 688.00,65.80 688.00,79.30" fill="none" stroke="#231F20" stroke-width="1.8" stroke-linejoin="miter"/>
<polyline points="691.80,79.30 691.80,65.80 765.50,65.80 765.50,79.30" fill="none" stroke="#231F20" stroke-width="1.8" stroke-linejoin="miter"/>
<polyline points="580.80,82.60 580.80,79.30 641.30,79.30 641.30,82.60" fill="none" stroke="#231F20" stroke-width="1.8" stroke-linejoin="miter"/>
<polyline points="658.00,82.60 658.00,79.30 719.30,79.30 719.30,82.60" fill="none" stroke="#231F20" stroke-width="1.8" stroke-linejoin="miter"/>
<polyline points="737.50,82.60 737.50,79.50 798.30,79.50 798.30,82.60" fill="none" stroke="#231F20" stroke-width="1.8" stroke-linejoin="miter"/>
<text x="688.80" y="63.20" font-size="6.0" font-weight="bold" font-style="italic" text-anchor="middle" fill="#1e1e1e" stroke="#1e1e1e" stroke-width="0.25">P&lt;0.0001</text>
<text x="648.80" y="74.20" font-size="6.0" font-weight="bold" font-style="italic" text-anchor="middle" fill="#1e1e1e" stroke="#1e1e1e" stroke-width="0.25">P&lt;0.0001</text>
<text x="728.80" y="72.70" font-size="6.0" font-weight="bold" font-style="italic" text-anchor="middle" fill="#1e1e1e" stroke="#1e1e1e" stroke-width="0.25">P&lt;0.0001</text>
<text x="609.50" y="87.20" font-size="6.0" font-weight="bold" font-style="italic" text-anchor="middle" fill="#1e1e1e" stroke="#1e1e1e" stroke-width="0.25">P= 0.25</text>
<text x="690.00" y="87.20" font-size="6.0" font-weight="bold" font-style="italic" text-anchor="middle" fill="#1e1e1e" stroke="#1e1e1e" stroke-width="0.25">P= 0.38</text>
<text x="769.50" y="87.20" font-size="6.0" font-weight="bold" font-style="italic" text-anchor="middle" fill="#1e1e1e" stroke="#1e1e1e" stroke-width="0.25">P= 0.07</text>
<line x1="111.85" y1="243.80" x2="111.85" y2="265.90" stroke="#1BA5B2" stroke-width="1.6" stroke-linecap="butt"/>
<rect x="102.45" y="248.20" width="18.80" height="13.30" fill="#fff" stroke="#1BA5B2" stroke-width="1.6"/>
<line x1="102.45" y1="255.10" x2="121.25" y2="255.10" stroke="#1BA5B2" stroke-width="1.6" stroke-linecap="butt"/>
<ellipse cx="111.55" cy="255.30" rx="2.45" ry="2.95" fill="#1BA5B2" stroke="#111" stroke-width="1.6"/>
<line x1="164.10" y1="242.20" x2="164.10" y2="267.00" stroke="#E8685F" stroke-width="1.6" stroke-linecap="butt"/>
<rect x="154.30" y="246.90" width="19.60" height="15.60" fill="#fff" stroke="#E8685F" stroke-width="1.6"/>
<line x1="154.30" y1="253.80" x2="173.90" y2="253.80" stroke="#E8685F" stroke-width="1.6" stroke-linecap="butt"/>
<ellipse cx="163.80" cy="255.30" rx="2.45" ry="2.95" fill="#E8685F" stroke="#111" stroke-width="1.6"/>
<text x="129.50" y="255.30" font-size="9.0" font-weight="normal" font-style="normal" text-anchor="start" fill="#333" textLength="19.0" lengthAdjust="spacing">Male</text>
<text x="181.25" y="255.50" font-size="9.0" font-weight="normal" font-style="normal" text-anchor="start" fill="#333" textLength="30.8" lengthAdjust="spacing">Female</text>
<line x1="384.10" y1="246.50" x2="384.10" y2="268.60" stroke="#1BA5B2" stroke-width="1.6" stroke-linecap="butt"/>
<rect x="374.70" y="250.90" width="18.80" height="13.30" fill="#fff" stroke="#1BA5B2" stroke-width="1.6"/>
<line x1="374.70" y1="257.80" x2="393.50" y2="257.80" stroke="#1BA5B2" stroke-width="1.6" stroke-linecap="butt"/>
<ellipse cx="383.80" cy="258.00" rx="2.45" ry="2.95" fill="#1BA5B2" stroke="#111" stroke-width="1.6"/>
<line x1="436.50" y1="244.90" x2="436.50" y2="269.70" stroke="#E8685F" stroke-width="1.6" stroke-linecap="butt"/>
<rect x="426.70" y="249.60" width="19.60" height="15.60" fill="#fff" stroke="#E8685F" stroke-width="1.6"/>
<line x1="426.70" y1="256.50" x2="446.30" y2="256.50" stroke="#E8685F" stroke-width="1.6" stroke-linecap="butt"/>
<ellipse cx="436.20" cy="258.00" rx="2.45" ry="2.95" fill="#E8685F" stroke="#111" stroke-width="1.6"/>
<text x="401.75" y="258.00" font-size="9.0" font-weight="normal" font-style="normal" text-anchor="start" fill="#333" textLength="19.0" lengthAdjust="spacing">Male</text>
<text x="453.75" y="258.20" font-size="9.0" font-weight="normal" font-style="normal" text-anchor="start" fill="#333" textLength="30.8" lengthAdjust="spacing">Female</text>
<line x1="647.25" y1="245.40" x2="647.25" y2="267.50" stroke="#1BA5B2" stroke-width="1.6" stroke-linecap="butt"/>
<rect x="637.85" y="249.80" width="18.80" height="13.30" fill="#fff" stroke="#1BA5B2" stroke-width="1.6"/>
<line x1="637.85" y1="256.70" x2="656.65" y2="256.70" stroke="#1BA5B2" stroke-width="1.6" stroke-linecap="butt"/>
<ellipse cx="646.95" cy="256.90" rx="2.45" ry="2.95" fill="#1BA5B2" stroke="#111" stroke-width="1.6"/>
<line x1="699.45" y1="243.80" x2="699.45" y2="268.60" stroke="#E8685F" stroke-width="1.6" stroke-linecap="butt"/>
<rect x="689.65" y="248.50" width="19.60" height="15.60" fill="#fff" stroke="#E8685F" stroke-width="1.6"/>
<line x1="689.65" y1="255.40" x2="709.25" y2="255.40" stroke="#E8685F" stroke-width="1.6" stroke-linecap="butt"/>
<ellipse cx="699.15" cy="256.90" rx="2.45" ry="2.95" fill="#E8685F" stroke="#111" stroke-width="1.6"/>
<text x="664.50" y="256.90" font-size="9.0" font-weight="normal" font-style="normal" text-anchor="start" fill="#333" textLength="19.0" lengthAdjust="spacing">Male</text>
<text x="716.75" y="257.10" font-size="9.0" font-weight="normal" font-style="normal" text-anchor="start" fill="#333" textLength="30.8" lengthAdjust="spacing">Female</text>
</svg>
</body></html>
